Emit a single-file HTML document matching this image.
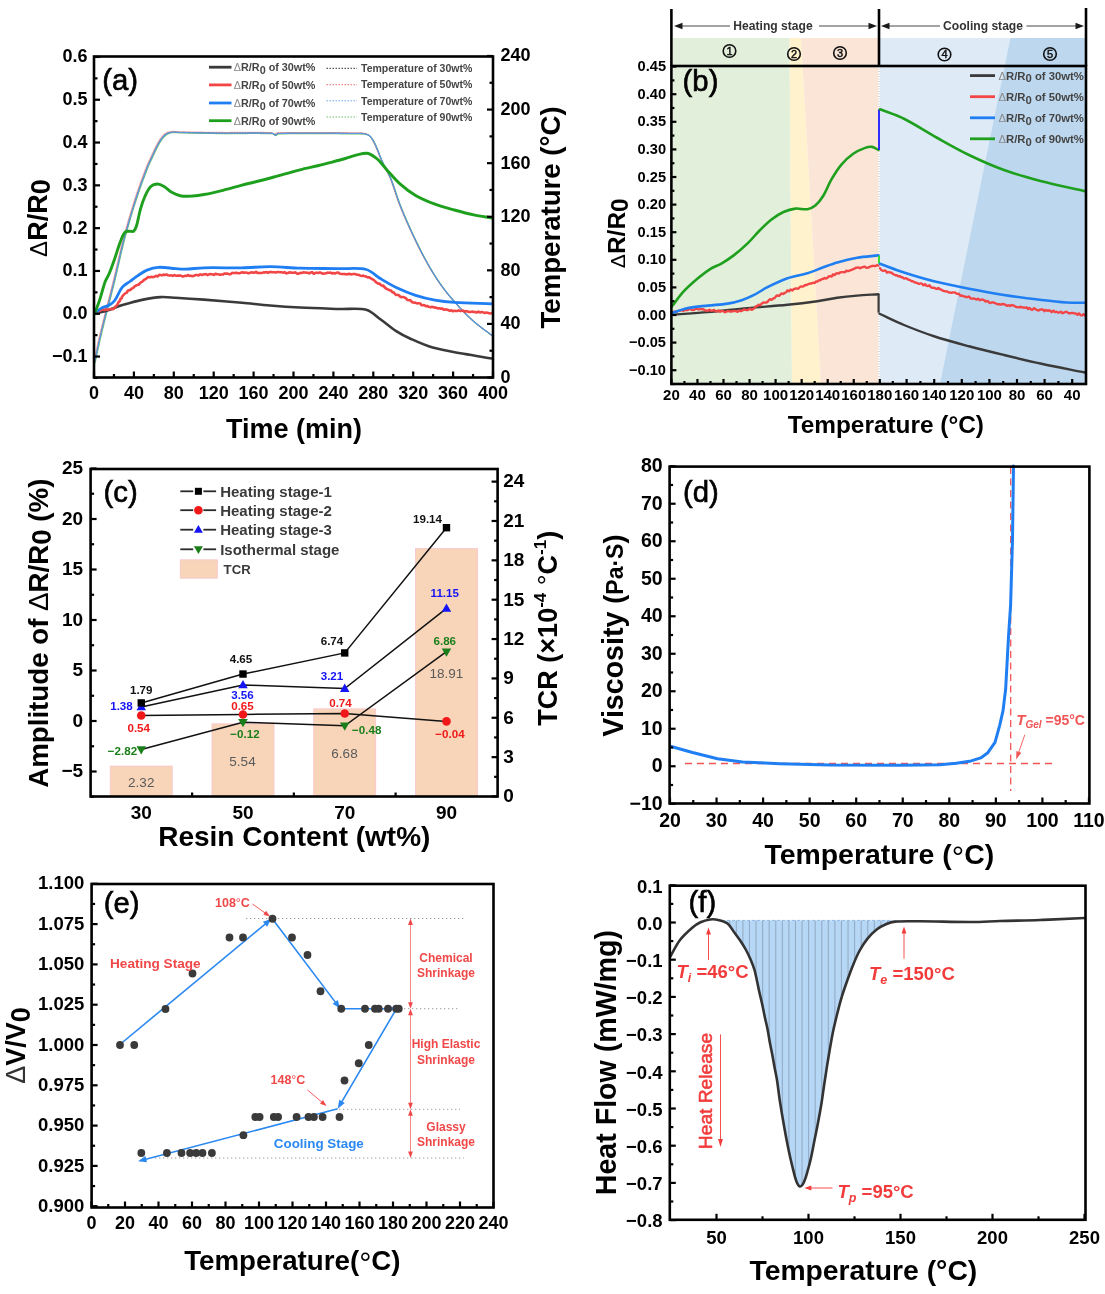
<!DOCTYPE html>
<html><head><meta charset="utf-8"><title>Figure</title>
<style>
html,body{margin:0;padding:0;background:#fff;}
body{width:1105px;height:1294px;overflow:hidden;}
svg{display:block;font-family:"Liberation Sans", sans-serif;filter:blur(0.35px);}
</style></head>
<body>
<svg width="1105" height="1294" viewBox="0 0 1105 1294">
<rect width="1105" height="1294" fill="#fff"/>
<path d="M93.8,361.4 C96.1,351.07 98.22,340.69 100.7,330.4 C104.64,314.02 109.04,297.76 113.05,281.4 C116.64,266.76 119.64,251.97 123.5,237.4 C127.06,223.97 131.02,210.62 135.3,197.4 C138.62,187.12 142.41,176.98 146.3,166.9 C147.75,163.14 149.61,159.55 151.3,155.9 C152.77,152.72 154.2,149.51 155.8,146.4 C157.03,144.01 158.29,141.61 159.8,139.4 C160.96,137.71 162.29,136.06 163.8,134.7 C164.96,133.66 166.36,132.76 167.8,132.2 C169.19,131.66 170.79,131.47 172.3,131.4 C174.62,131.3 176.97,131.65 179.3,131.7 C192.63,131.98 205.97,132.27 219.3,132.4 C236.77,132.57 254.41,131.97 271.7,132.6 C272.74,132.64 273.41,134.38 274.3,134.4 C275.27,134.42 276.16,132.72 277.3,132.7 C305.16,132.19 333.32,132.52 361.3,132.8 C362.82,132.82 364.37,133.14 365.8,133.6 C366.87,133.94 367.97,134.46 368.8,135.2 C369.97,136.23 370.98,137.55 371.8,138.9 C373.15,141.12 374.26,143.51 375.3,145.9 C377.62,151.21 379.5,156.73 381.9,162 C384.3,167.26 387.52,172.16 389.7,177.5 C393.32,186.36 395.8,195.69 399.3,204.6 C402.9,213.75 406.85,222.78 411,231.7 C415.25,240.85 419.61,249.98 424.5,258.8 C429.28,267.42 434.31,275.98 440,284 C445.31,291.48 451.37,298.47 457.5,305.3 C462.37,310.73 467.51,316 473,320.8 C478.78,325.86 485.2,330.2 491.3,334.9" stroke="#f0a0a0" stroke-width="1.1" fill="none" stroke-linejoin="round" stroke-linecap="round" stroke-dasharray="1.6,1.0" stroke-dashoffset="0"/>
<path d="M95.2,362.6 C97.5,352.27 99.62,341.89 102.1,331.6 C106.04,315.22 110.44,298.96 114.45,282.6 C118.04,267.96 121.04,253.17 124.9,238.6 C128.46,225.17 132.42,211.82 136.7,198.6 C140.02,188.32 143.81,178.18 147.7,168.1 C149.15,164.34 151.01,160.75 152.7,157.1 C154.17,153.92 155.6,150.71 157.2,147.6 C158.43,145.21 159.69,142.81 161.2,140.6 C162.36,138.91 163.69,137.26 165.2,135.9 C166.36,134.86 167.76,133.96 169.2,133.4 C170.59,132.86 172.19,132.67 173.7,132.6 C176.02,132.5 178.37,132.85 180.7,132.9 C194.03,133.18 207.37,133.47 220.7,133.6 C238.17,133.77 255.81,133.17 273.1,133.8 C274.14,133.84 274.81,135.58 275.7,135.6 C276.67,135.62 277.56,133.92 278.7,133.9 C306.56,133.39 334.72,133.72 362.7,134 C364.22,134.02 365.77,134.34 367.2,134.8 C368.27,135.14 369.37,135.66 370.2,136.4 C371.37,137.43 372.38,138.75 373.2,140.1 C374.55,142.32 375.66,144.71 376.7,147.1 C379.02,152.41 380.9,157.93 383.3,163.2 C385.7,168.46 388.92,173.36 391.1,178.7 C394.72,187.56 397.2,196.89 400.7,205.8 C404.3,214.95 408.25,223.98 412.4,232.9 C416.65,242.05 421.01,251.18 425.9,260 C430.68,268.62 435.71,277.18 441.4,285.2 C446.71,292.68 452.77,299.67 458.9,306.5 C463.77,311.93 468.91,317.2 474.4,322 C480.18,327.06 486.6,331.4 492.7,336.1" stroke="#6cc06c" stroke-width="1.2" fill="none" stroke-linejoin="round" stroke-linecap="round" stroke-dasharray="1.6,1.0" stroke-dashoffset="1"/>
<path d="M94.5,362 C96.8,351.67 98.92,341.29 101.4,331 C105.34,314.62 109.74,298.36 113.75,282 C117.34,267.36 120.34,252.57 124.2,238 C127.76,224.57 131.72,211.22 136,198 C139.32,187.72 143.11,177.58 147,167.5 C148.45,163.74 150.31,160.15 152,156.5 C153.47,153.32 154.9,150.11 156.5,147 C157.73,144.61 158.99,142.21 160.5,140 C161.66,138.31 162.99,136.66 164.5,135.3 C165.66,134.26 167.06,133.36 168.5,132.8 C169.89,132.26 171.49,132.07 173,132 C175.32,131.9 177.67,132.25 180,132.3 C193.33,132.58 206.67,132.87 220,133 C237.47,133.17 255.11,132.57 272.4,133.2 C273.44,133.24 274.11,134.98 275,135 C275.97,135.02 276.86,133.32 278,133.3 C305.86,132.79 334.02,133.12 362,133.4 C363.52,133.42 365.07,133.74 366.5,134.2 C367.57,134.54 368.67,135.06 369.5,135.8 C370.67,136.83 371.68,138.15 372.5,139.5 C373.85,141.72 374.96,144.11 376,146.5 C378.32,151.81 380.2,157.33 382.6,162.6 C385,167.86 388.22,172.76 390.4,178.1 C394.02,186.96 396.5,196.29 400,205.2 C403.6,214.35 407.55,223.38 411.7,232.3 C415.95,241.45 420.31,250.58 425.2,259.4 C429.98,268.02 435.01,276.58 440.7,284.6 C446.01,292.08 452.07,299.07 458.2,305.9 C463.07,311.33 468.21,316.6 473.7,321.4 C479.48,326.46 485.9,330.8 492,335.5" stroke="#6a7890" stroke-width="1.1" fill="none" stroke-linejoin="round" stroke-linecap="round" stroke-dasharray="1.6,1.0" stroke-dashoffset="0.5"/>
<path d="M94.7,362.2 C97,351.87 99.12,341.49 101.6,331.2 C105.54,314.82 109.94,298.56 113.95,282.2 C117.54,267.56 120.54,252.77 124.4,238.2 C127.96,224.77 131.92,211.42 136.2,198.2 C139.52,187.92 143.31,177.78 147.2,167.7 C148.65,163.94 150.51,160.35 152.2,156.7 C153.67,153.52 155.1,150.31 156.7,147.2 C157.93,144.81 159.19,142.41 160.7,140.2 C161.86,138.51 163.19,136.86 164.7,135.5 C165.86,134.46 167.26,133.56 168.7,133 C170.09,132.46 171.69,132.27 173.2,132.2 C175.52,132.1 177.87,132.45 180.2,132.5 C193.53,132.78 206.87,133.07 220.2,133.2 C237.67,133.37 255.31,132.77 272.6,133.4 C273.64,133.44 274.31,135.18 275.2,135.2 C276.17,135.22 277.06,133.52 278.2,133.5 C306.06,132.99 334.22,133.32 362.2,133.6 C363.72,133.62 365.27,133.94 366.7,134.4 C367.77,134.74 368.87,135.26 369.7,136 C370.87,137.03 371.88,138.35 372.7,139.7 C374.05,141.92 375.16,144.31 376.2,146.7 C378.52,152.01 380.4,157.53 382.8,162.8 C385.2,168.06 388.42,172.96 390.6,178.3 C394.22,187.16 396.7,196.49 400.2,205.4 C403.8,214.55 407.75,223.58 411.9,232.5 C416.15,241.65 420.51,250.78 425.4,259.6 C430.18,268.22 435.21,276.78 440.9,284.8 C446.21,292.28 452.27,299.27 458.4,306.1 C463.27,311.53 468.41,316.8 473.9,321.6 C479.68,326.66 486.1,331 492.2,335.7" stroke="#5a9ae8" stroke-width="1.1" fill="none" stroke-linejoin="round" stroke-linecap="round" stroke-dasharray="1.6,1.0" stroke-dashoffset="1.6"/>
<path d="M94.5,313.8 C99.33,312.53 104.25,311.51 109,310 C112.25,308.97 115.28,307.32 118.5,306.2 C121.62,305.12 124.81,304.25 128,303.4 C133.04,302.05 138.08,300.6 143.2,299.6 C148.85,298.5 154.57,297.44 160.3,297.1 C165.34,296.8 170.44,297.41 175.5,297.7 C185,298.24 194.51,298.87 204,299.6 C216.67,300.57 229.34,301.67 242,302.8 C251.34,303.63 260.66,304.74 270,305.5 C279.99,306.31 289.99,307 300,307.5 C313.32,308.17 326.67,308.54 340,309 C348.73,309.3 358.05,307.7 366.2,309.8 C371.62,311.2 375.96,316.13 380.7,319.5 C385.96,323.23 390.8,327.6 396.2,331.1 C400.57,333.93 405.25,336.35 410,338.5 C417.42,341.85 424.89,345.37 432.7,347.6 C442.76,350.47 453.27,351.9 463.6,353.8 C473.04,355.53 482.53,356.93 492,358.5" stroke="#3a3a3a" stroke-width="2.6" fill="none" stroke-linejoin="round" stroke-linecap="round" />
<path d="M94.5,313.55 C94.96,313.22 95.37,312.75 95.88,312.55 C96.29,312.39 96.89,312.71 97.26,312.49 C97.81,312.16 98.09,311.26 98.64,310.92 C99.01,310.7 99.61,310.98 100.02,310.81 C100.53,310.61 100.9,310.06 101.4,309.81 C101.87,309.58 102.42,309.35 102.92,309.38 C103.44,309.41 103.94,310.02 104.44,310.01 C104.95,310.01 105.45,309.37 105.96,309.35 C106.46,309.34 106.97,309.9 107.48,309.91 C107.98,309.91 108.49,309.56 109,309.4 C109.47,309.24 109.94,309.03 110.42,308.95 C110.89,308.88 111.38,308.93 111.85,308.94 C112.33,308.96 112.88,309.22 113.28,309.03 C113.83,308.76 114.25,308.08 114.7,307.57 C115.01,307.22 115.23,306.79 115.54,306.45 C115.79,306.18 116.12,305.99 116.39,305.75 C116.68,305.48 117.02,305.25 117.23,304.93 C117.59,304.38 117.78,303.73 118.08,303.14 C118.34,302.63 118.56,302.05 118.92,301.62 C119.12,301.39 119.62,301.43 119.77,301.17 C120.18,300.42 120.18,299.28 120.61,298.6 C120.75,298.38 121.3,298.67 121.46,298.47 C121.86,297.94 121.93,297.04 122.3,296.41 C122.59,295.9 123.05,295.5 123.44,295.06 C123.81,294.66 124.17,294.25 124.58,293.88 C124.93,293.57 125.31,293.25 125.72,293.01 C126.07,292.81 126.6,292.86 126.86,292.58 C127.36,292.04 127.48,291.03 128,290.55 C128.31,290.27 128.93,290.46 129.36,290.3 C129.83,290.13 130.3,289.86 130.71,289.57 C131.2,289.22 131.57,288.7 132.07,288.38 C132.48,288.12 133.05,288.1 133.43,287.81 C133.95,287.41 134.28,286.75 134.79,286.32 C135.18,285.98 135.68,285.74 136.14,285.5 C136.58,285.27 137.03,285.05 137.5,284.89 C137.88,284.75 138.36,284.82 138.69,284.6 C139.16,284.29 139.46,283.72 139.88,283.3 C140.25,282.91 140.63,282.5 141.06,282.19 C141.42,281.94 141.9,281.87 142.25,281.62 C142.69,281.3 143.04,280.87 143.44,280.48 C143.84,280.1 144.17,279.59 144.62,279.32 C144.96,279.12 145.47,279.25 145.81,279.06 C146.26,278.81 146.57,278.3 147,277.98 C147.47,277.63 147.98,277.19 148.52,277.06 C148.99,276.95 149.54,277.27 150.04,277.24 C150.55,277.22 151.05,276.92 151.56,276.9 C152.06,276.87 152.58,277.15 153.08,277.11 C153.6,277.06 154.12,276.84 154.6,276.62 C155.13,276.38 155.6,275.76 156.12,275.72 C156.61,275.69 157.19,276.53 157.64,276.41 C158.21,276.26 158.57,275.19 159.16,274.93 C159.58,274.74 160.17,275.01 160.68,275.07 C161.19,275.12 161.72,275.35 162.2,275.26 C162.73,275.16 163.2,274.52 163.72,274.47 C164.21,274.43 164.74,275.01 165.24,275 C165.75,275 166.28,274.38 166.76,274.43 C167.29,274.5 167.73,275.17 168.28,275.38 C168.75,275.55 169.29,275.57 169.8,275.57 C170.31,275.57 170.82,275.32 171.32,275.36 C171.84,275.41 172.35,275.89 172.84,275.85 C173.36,275.8 173.85,275.14 174.36,275.12 C174.86,275.1 175.36,275.62 175.88,275.71 C176.37,275.8 176.89,275.64 177.4,275.63 C177.91,275.63 178.41,275.68 178.92,275.67 C179.43,275.66 179.95,275.48 180.44,275.56 C180.96,275.64 181.44,276.02 181.96,276.16 C182.45,276.29 182.99,276.43 183.48,276.36 C184,276.3 184.48,275.83 185,275.76 C185.49,275.7 186.05,276.07 186.52,275.96 C187.06,275.83 187.53,275.06 188.04,275.04 C188.54,275.03 189.02,275.75 189.56,275.87 C190.04,275.97 190.58,275.67 191.08,275.72 C191.59,275.76 192.09,276.11 192.6,276.13 C193.1,276.15 193.64,276 194.12,275.82 C194.65,275.62 195.1,275.13 195.64,274.99 C196.11,274.88 196.66,275 197.16,275.06 C197.67,275.13 198.21,275.49 198.68,275.39 C199.22,275.27 199.66,274.49 200.2,274.41 C200.68,274.34 201.21,274.94 201.72,274.95 C202.22,274.96 202.72,274.58 203.24,274.47 C203.74,274.37 204.25,274.38 204.76,274.33 C205.27,274.28 205.81,274.06 206.28,274.17 C206.82,274.31 207.3,275.1 207.8,275.1 C208.31,275.09 208.77,274.29 209.32,274.13 C209.78,274 210.33,274.19 210.84,274.22 C211.35,274.26 211.87,274.23 212.36,274.35 C212.88,274.48 213.41,275.04 213.88,274.95 C214.43,274.85 214.84,273.91 215.4,273.77 C215.86,273.66 216.4,274.13 216.92,274.22 C217.42,274.3 217.94,274.21 218.44,274.29 C218.95,274.36 219.45,274.64 219.96,274.68 C220.46,274.72 220.97,274.55 221.48,274.52 C221.99,274.49 222.53,274.65 223,274.51 C223.54,274.35 223.96,273.75 224.5,273.61 C224.96,273.48 225.5,273.72 226,273.71 C226.5,273.7 227.02,273.47 227.5,273.55 C228.02,273.63 228.48,274.08 229,274.2 C229.48,274.31 230.06,274.39 230.5,274.22 C231.06,274 231.44,273.24 232,273.01 C232.44,272.82 233,272.97 233.5,272.96 C234,272.95 234.5,272.97 235,272.95 C235.5,272.94 236,272.84 236.5,272.87 C237,272.9 237.5,273.08 238,273.14 C238.5,273.19 239.02,273.28 239.5,273.2 C240.02,273.12 240.5,272.82 241,272.66 C241.5,272.49 242,272.2 242.5,272.21 C243,272.22 243.49,272.65 244,272.71 C244.49,272.76 245,272.55 245.5,272.55 C246,272.56 246.51,272.64 247,272.75 C247.51,272.86 248,273.2 248.5,273.2 C249,273.2 249.5,272.88 250,272.75 C250.5,272.62 251,272.45 251.5,272.42 C252,272.39 252.51,272.54 253.02,272.58 C253.52,272.63 254.06,272.8 254.53,272.68 C255.07,272.55 255.57,271.78 256.05,271.83 C256.58,271.89 257,272.84 257.56,273.03 C258.01,273.19 258.57,272.89 259.08,272.89 C259.58,272.89 260.09,273.03 260.59,273.04 C261.1,273.05 261.62,273.05 262.11,272.95 C262.63,272.84 263.1,272.49 263.62,272.4 C264.11,272.32 264.64,272.49 265.14,272.43 C265.65,272.37 266.17,271.97 266.66,272.03 C267.18,272.1 267.67,272.8 268.17,272.79 C268.68,272.79 269.15,272.15 269.69,272.01 C270.16,271.89 270.7,272 271.2,272.04 C271.71,272.08 272.21,272.23 272.72,272.25 C273.22,272.28 273.73,272.17 274.23,272.21 C274.74,272.25 275.25,272.5 275.75,272.48 C276.26,272.46 276.75,272.17 277.27,272.09 C277.76,272.02 278.28,272.01 278.78,272.04 C279.29,272.07 279.79,272.24 280.3,272.27 C280.8,272.3 281.32,272.16 281.81,272.22 C282.33,272.27 282.83,272.61 283.33,272.6 C283.84,272.59 284.39,272.04 284.84,272.15 C285.4,272.29 285.8,273.2 286.36,273.36 C286.81,273.48 287.38,273.17 287.88,273.01 C288.39,272.84 288.87,272.46 289.39,272.38 C289.88,272.3 290.4,272.49 290.91,272.54 C291.41,272.59 291.92,272.66 292.42,272.69 C292.93,272.72 293.44,272.78 293.94,272.73 C294.45,272.69 294.99,272.31 295.45,272.42 C296,272.55 296.42,273.22 296.97,273.45 C297.43,273.64 298,273.75 298.48,273.67 C299.01,273.58 299.47,273.07 300,272.95 C300.48,272.84 301.03,273.06 301.52,272.98 C302.05,272.89 302.52,272.51 303.05,272.42 C303.54,272.33 304.07,272.38 304.57,272.44 C305.09,272.5 305.58,272.74 306.1,272.78 C306.6,272.82 307.14,272.56 307.62,272.67 C308.16,272.79 308.65,273.48 309.14,273.46 C309.66,273.44 310.12,272.73 310.67,272.53 C311.14,272.35 311.75,272.17 312.19,272.33 C312.77,272.54 313.16,273.5 313.72,273.63 C314.17,273.74 314.73,273.23 315.24,273.04 C315.74,272.85 316.26,272.5 316.76,272.51 C317.27,272.51 317.79,273.09 318.29,273.06 C318.81,273.03 319.3,272.34 319.81,272.34 C320.32,272.33 320.82,272.82 321.34,273.04 C321.84,273.26 322.33,273.59 322.86,273.67 C323.35,273.75 323.88,273.57 324.38,273.51 C324.89,273.44 325.42,273.41 325.91,273.27 C326.43,273.13 326.91,272.75 327.43,272.67 C327.92,272.59 328.45,272.84 328.96,272.81 C329.47,272.79 330,272.44 330.48,272.53 C331.02,272.63 331.47,273.29 332,273.38 C332.48,273.46 333.02,273.04 333.53,273.05 C334.04,273.05 334.56,273.44 335.05,273.39 C335.57,273.34 336.05,272.9 336.58,272.76 C337.07,272.64 337.63,272.49 338.1,272.61 C338.66,272.76 339.11,273.35 339.66,273.6 C340.15,273.81 340.69,273.94 341.22,274 C341.73,274.06 342.26,273.97 342.78,273.98 C343.3,273.99 343.83,274.03 344.34,274.07 C344.87,274.12 345.38,274.21 345.91,274.25 C346.42,274.29 346.96,274.38 347.47,274.3 C348,274.22 348.51,273.74 349.03,273.75 C349.55,273.75 350.05,274.23 350.59,274.31 C351.09,274.39 351.63,274.31 352.15,274.25 C352.67,274.19 353.19,273.97 353.71,273.95 C354.23,273.93 354.76,274 355.27,274.11 C355.8,274.23 356.3,274.51 356.83,274.62 C357.34,274.73 357.9,274.62 358.39,274.76 C358.94,274.92 359.42,275.3 359.96,275.53 C360.46,275.74 361,276.06 361.52,276.06 C362.04,276.05 362.58,275.46 363.08,275.5 C363.62,275.55 364.09,276.16 364.64,276.35 C365.13,276.52 365.71,276.42 366.2,276.58 C366.67,276.74 367.05,277.2 367.52,277.33 C367.93,277.44 368.42,277.2 368.84,277.29 C369.3,277.39 369.73,277.66 370.15,277.88 C370.61,278.12 371.03,278.42 371.47,278.68 C371.91,278.94 372.36,279.17 372.79,279.43 C373.23,279.69 373.72,279.91 374.11,280.23 C374.59,280.63 374.97,281.17 375.43,281.61 C375.85,282.02 376.27,282.45 376.75,282.79 C377.15,283.08 377.6,283.32 378.06,283.49 C378.48,283.65 378.99,283.58 379.38,283.78 C379.87,284.02 380.26,284.47 380.7,284.81 C381.13,285.15 381.51,285.68 381.99,285.83 C382.37,285.95 382.95,285.45 383.28,285.64 C383.81,285.93 384.11,286.75 384.57,287.25 C384.97,287.67 385.4,288.08 385.87,288.41 C386.26,288.68 386.74,288.81 387.16,289.04 C387.6,289.27 388,289.59 388.45,289.8 C388.86,289.99 389.31,290.09 389.74,290.23 C390.17,290.36 390.7,290.35 391.03,290.62 C391.56,291.03 391.79,291.9 392.32,292.28 C392.65,292.51 393.27,292.23 393.62,292.45 C394.13,292.78 394.44,293.46 394.91,293.91 C395.3,294.3 395.72,294.8 396.2,294.96 C396.61,295.09 397.14,294.7 397.59,294.78 C398.07,294.85 398.57,295.11 398.97,295.4 C399.49,295.78 399.82,296.46 400.36,296.79 C400.75,297.03 401.28,297.07 401.74,297.1 C402.2,297.13 402.68,296.88 403.13,296.95 C403.61,297.02 404.06,297.31 404.51,297.51 C404.98,297.71 405.52,297.84 405.9,298.16 C406.44,298.62 406.73,299.41 407.29,299.84 C407.66,300.13 408.2,300.29 408.67,300.32 C409.13,300.35 409.68,299.85 410.06,300.02 C410.61,300.27 410.92,301.14 411.44,301.59 C411.85,301.94 412.33,302.25 412.83,302.43 C413.26,302.58 413.75,302.54 414.21,302.6 C414.68,302.66 415.16,302.66 415.6,302.79 C416.11,302.94 416.57,303.37 417.08,303.45 C417.56,303.52 418.07,303.24 418.57,303.24 C419.06,303.24 419.66,303.19 420.05,303.45 C420.65,303.84 420.94,304.84 421.54,305.17 C421.93,305.38 422.53,305.07 423.02,305.09 C423.52,305.12 424.05,305.12 424.51,305.3 C425.04,305.51 425.46,306.13 425.99,306.25 C426.45,306.34 427.02,305.82 427.48,305.92 C428.01,306.04 428.43,306.68 428.96,306.91 C429.42,307.11 429.96,307.25 430.45,307.23 C430.95,307.2 431.43,306.75 431.93,306.74 C432.42,306.73 432.92,307.03 433.42,307.18 C433.91,307.32 434.4,307.51 434.9,307.61 C435.39,307.71 435.92,307.62 436.39,307.76 C436.91,307.91 437.37,308.38 437.88,308.47 C438.36,308.54 438.89,308.2 439.38,308.23 C439.88,308.27 440.36,308.63 440.87,308.68 C441.36,308.72 441.93,308.34 442.36,308.5 C442.93,308.71 443.3,309.67 443.85,309.81 C444.3,309.92 444.84,309.29 445.35,309.26 C445.83,309.23 446.34,309.5 446.84,309.63 C447.34,309.75 447.85,309.85 448.33,310.02 C448.84,310.21 449.31,310.66 449.82,310.7 C450.31,310.73 450.85,310.17 451.32,310.24 C451.84,310.32 452.28,311.06 452.81,311.16 C453.27,311.25 453.8,310.84 454.3,310.8 C454.8,310.76 455.3,310.9 455.81,310.93 C456.31,310.97 456.83,311.1 457.32,311.01 C457.84,310.92 458.32,310.38 458.82,310.39 C459.33,310.4 459.81,311 460.33,311.07 C460.82,311.13 461.33,310.87 461.84,310.8 C462.34,310.72 462.91,310.48 463.35,310.63 C463.91,310.83 464.32,311.76 464.86,311.83 C465.33,311.9 465.84,311.09 466.36,311.05 C466.85,311 467.37,311.4 467.87,311.55 C468.37,311.71 468.87,311.95 469.38,312 C469.87,312.04 470.39,311.91 470.89,311.85 C471.39,311.78 471.9,311.59 472.4,311.61 C472.9,311.63 473.4,311.89 473.9,311.97 C474.4,312.05 474.92,312.02 475.41,312.11 C475.92,312.2 476.44,312.59 476.92,312.52 C477.45,312.44 477.92,311.68 478.43,311.66 C478.92,311.63 479.41,312.32 479.94,312.38 C480.42,312.44 480.94,312.07 481.44,312.03 C481.94,312 482.48,312.02 482.95,312.16 C483.48,312.32 483.93,312.85 484.46,312.94 C484.94,313.02 485.46,312.68 485.97,312.66 C486.47,312.64 486.98,312.74 487.48,312.82 C487.98,312.91 488.48,313.08 488.98,313.19 C489.48,313.3 490,313.53 490.49,313.49 C491.01,313.44 491.5,313.11 492,312.92" stroke="#f24646" stroke-width="2.6" fill="none" stroke-linejoin="round" stroke-linecap="round" />
<path d="M94.5,313.8 C96.8,311.9 98.86,309.59 101.4,308.1 C103.7,306.75 106.69,306.62 109,305.3 C111.12,304.09 113.25,302.47 114.7,300.5 C117.68,296.44 119.17,291.11 122.3,287.2 C124.24,284.78 127.37,283.4 129.9,281.5 C132.43,279.6 134.87,277.55 137.5,275.8 C140.57,273.75 143.62,271.48 147,270.1 C150.58,268.64 154.54,267.5 158.4,267.3 C164.04,267 169.8,268.19 175.5,268.6 C178.66,268.83 181.83,269.29 185,269.2 C191.33,269.02 197.66,267.96 204,267.8 C216.66,267.49 229.34,268.01 242,267.8 C251.5,267.64 261,266.63 270.5,266.7 C280.34,266.77 290.16,267.92 300,268.2 C313.33,268.58 326.67,268.44 340,268.7 C348.74,268.87 358.01,267.47 366.2,269.5 C371.58,270.84 375.78,275.85 380.7,278.8 C385.78,281.85 390.85,284.97 396.2,287.5 C402.49,290.47 408.99,293.15 415.6,295.3 C421.89,297.35 428.39,298.91 434.9,300.1 C441.29,301.27 447.81,301.98 454.3,302.4 C466.84,303.21 479.43,303.33 492,303.8" stroke="#1f7ff2" stroke-width="2.8" fill="none" stroke-linejoin="round" stroke-linecap="round" />
<path d="M94.5,313.8 C96.17,309.37 98.01,304.99 99.5,300.5 C101.58,294.23 102.98,287.7 105.2,281.5 C106.14,278.87 107.92,276.58 109,274 C111.09,268.98 112.89,263.83 114.7,258.7 C116.69,253.03 118.2,247.17 120.4,241.6 C121.7,238.31 123.02,234.49 125.2,232.1 C126.18,231.02 128.32,231.37 129.9,231.2 C131.15,231.07 132.87,231.91 133.7,231.2 C135.1,230.01 135.98,227.53 136.6,225.5 C138.21,220.23 138.87,214.62 140.4,209.3 C141.7,204.79 143.16,200.26 145.1,196 C146.62,192.66 148.29,188.93 150.8,186.5 C152.42,184.93 155.27,184 157.5,184 C159.7,184 162.08,185.33 164.1,186.5 C166.82,188.07 168.96,190.68 171.7,192.2 C174.66,193.84 177.9,195.4 181.2,196 C184.87,196.67 188.82,196.25 192.6,196 C196.42,195.75 200.24,195.21 204,194.5 C210.37,193.31 216.7,191.84 223,190.3 C229.37,188.74 235.65,186.84 242,185.2 C251.49,182.74 261.03,180.51 270.5,178 C280.36,175.38 290.12,172.36 300,169.8 C306.19,168.19 312.49,167.02 318.7,165.5 C325.82,163.76 332.9,161.82 340,160 C348.73,157.76 357.68,153.6 366.2,153.3 C369.95,153.17 373.74,156.28 376.8,158.7 C380.51,161.64 383.24,165.86 386.5,169.4 C390.97,174.26 395.1,179.51 400,183.9 C404.8,188.21 410.03,192.26 415.6,195.5 C421.66,199.03 428.31,201.73 434.9,204.2 C441.21,206.56 447.79,208.21 454.3,210 C460.73,211.77 467.18,213.52 473.7,214.9 C479.75,216.18 485.9,216.97 492,218" stroke="#1ea01e" stroke-width="2.9" fill="none" stroke-linejoin="round" stroke-linecap="round" />
<line x1="209" y1="67.2" x2="231.5" y2="67.2" stroke="#3a3a3a" stroke-width="2.8" />
<text x="233.8" y="71.1" font-size="10.8" font-weight="bold" fill="#444"><tspan font-weight="normal" fill="#8a8a8a">Δ</tspan>R/R<tspan dy="2.8">0</tspan><tspan dy="-2.8"> of 30wt%</tspan></text>
<line x1="326.5" y1="68.4" x2="357" y2="68.4" stroke="#555" stroke-width="1.1" stroke-dasharray="1.5,1.5"/>
<text x="361" y="72.2" font-size="10.5" font-weight="bold" fill="#444">Temperature of 30wt%</text>
<line x1="209" y1="84.9" x2="231.5" y2="84.9" stroke="#f24646" stroke-width="2.8" />
<text x="233.8" y="88.8" font-size="10.8" font-weight="bold" fill="#444"><tspan font-weight="normal" fill="#8a8a8a">Δ</tspan>R/R<tspan dy="2.8">0</tspan><tspan dy="-2.8"> of 50wt%</tspan></text>
<line x1="326.5" y1="84.6" x2="357" y2="84.6" stroke="#f08a8a" stroke-width="1.1" stroke-dasharray="1.5,1.5"/>
<text x="361" y="88.4" font-size="10.5" font-weight="bold" fill="#444">Temperature of 50wt%</text>
<line x1="209" y1="103" x2="231.5" y2="103" stroke="#1f7ff2" stroke-width="2.8" />
<text x="233.8" y="106.9" font-size="10.8" font-weight="bold" fill="#444"><tspan font-weight="normal" fill="#8a8a8a">Δ</tspan>R/R<tspan dy="2.8">0</tspan><tspan dy="-2.8"> of 70wt%</tspan></text>
<line x1="326.5" y1="100.8" x2="357" y2="100.8" stroke="#6aa8f0" stroke-width="1.1" stroke-dasharray="1.5,1.5"/>
<text x="361" y="104.6" font-size="10.5" font-weight="bold" fill="#444">Temperature of 70wt%</text>
<line x1="209" y1="120.7" x2="231.5" y2="120.7" stroke="#1ea01e" stroke-width="2.8" />
<text x="233.8" y="124.6" font-size="10.8" font-weight="bold" fill="#444"><tspan font-weight="normal" fill="#8a8a8a">Δ</tspan>R/R<tspan dy="2.8">0</tspan><tspan dy="-2.8"> of 90wt%</tspan></text>
<line x1="326.5" y1="117" x2="357" y2="117" stroke="#70c070" stroke-width="1.1" stroke-dasharray="1.5,1.5"/>
<text x="361" y="120.8" font-size="10.5" font-weight="bold" fill="#444">Temperature of 90wt%</text>
<rect x="94" y="56.5" width="399" height="321" fill="none" stroke="#000" stroke-width="2.6"/>
<line x1="94" y1="356.55" x2="100" y2="356.55" stroke="#000" stroke-width="2.2" />
<line x1="94" y1="313.75" x2="100" y2="313.75" stroke="#000" stroke-width="2.2" />
<line x1="94" y1="270.95" x2="100" y2="270.95" stroke="#000" stroke-width="2.2" />
<line x1="94" y1="228.15" x2="100" y2="228.15" stroke="#000" stroke-width="2.2" />
<line x1="94" y1="185.35" x2="100" y2="185.35" stroke="#000" stroke-width="2.2" />
<line x1="94" y1="142.55" x2="100" y2="142.55" stroke="#000" stroke-width="2.2" />
<line x1="94" y1="99.75" x2="100" y2="99.75" stroke="#000" stroke-width="2.2" />
<line x1="94" y1="56.95" x2="100" y2="56.95" stroke="#000" stroke-width="2.2" />
<line x1="94" y1="377.95" x2="97.5" y2="377.95" stroke="#000" stroke-width="2.2" />
<line x1="94" y1="335.15" x2="97.5" y2="335.15" stroke="#000" stroke-width="2.2" />
<line x1="94" y1="292.35" x2="97.5" y2="292.35" stroke="#000" stroke-width="2.2" />
<line x1="94" y1="249.55" x2="97.5" y2="249.55" stroke="#000" stroke-width="2.2" />
<line x1="94" y1="206.75" x2="97.5" y2="206.75" stroke="#000" stroke-width="2.2" />
<line x1="94" y1="163.95" x2="97.5" y2="163.95" stroke="#000" stroke-width="2.2" />
<line x1="94" y1="121.15" x2="97.5" y2="121.15" stroke="#000" stroke-width="2.2" />
<line x1="94" y1="78.35" x2="97.5" y2="78.35" stroke="#000" stroke-width="2.2" />
<line x1="493" y1="377.5" x2="487" y2="377.5" stroke="#000" stroke-width="2.2" />
<line x1="493" y1="323.92" x2="487" y2="323.92" stroke="#000" stroke-width="2.2" />
<line x1="493" y1="270.33" x2="487" y2="270.33" stroke="#000" stroke-width="2.2" />
<line x1="493" y1="216.75" x2="487" y2="216.75" stroke="#000" stroke-width="2.2" />
<line x1="493" y1="163.17" x2="487" y2="163.17" stroke="#000" stroke-width="2.2" />
<line x1="493" y1="109.58" x2="487" y2="109.58" stroke="#000" stroke-width="2.2" />
<line x1="493" y1="56" x2="487" y2="56" stroke="#000" stroke-width="2.2" />
<line x1="493" y1="350.71" x2="489.5" y2="350.71" stroke="#000" stroke-width="2.2" />
<line x1="493" y1="297.12" x2="489.5" y2="297.12" stroke="#000" stroke-width="2.2" />
<line x1="493" y1="243.54" x2="489.5" y2="243.54" stroke="#000" stroke-width="2.2" />
<line x1="493" y1="189.96" x2="489.5" y2="189.96" stroke="#000" stroke-width="2.2" />
<line x1="493" y1="136.38" x2="489.5" y2="136.38" stroke="#000" stroke-width="2.2" />
<line x1="493" y1="82.79" x2="489.5" y2="82.79" stroke="#000" stroke-width="2.2" />
<line x1="94" y1="377.5" x2="94" y2="371.5" stroke="#000" stroke-width="2.2" />
<line x1="133.9" y1="377.5" x2="133.9" y2="371.5" stroke="#000" stroke-width="2.2" />
<line x1="173.8" y1="377.5" x2="173.8" y2="371.5" stroke="#000" stroke-width="2.2" />
<line x1="213.7" y1="377.5" x2="213.7" y2="371.5" stroke="#000" stroke-width="2.2" />
<line x1="253.6" y1="377.5" x2="253.6" y2="371.5" stroke="#000" stroke-width="2.2" />
<line x1="293.5" y1="377.5" x2="293.5" y2="371.5" stroke="#000" stroke-width="2.2" />
<line x1="333.4" y1="377.5" x2="333.4" y2="371.5" stroke="#000" stroke-width="2.2" />
<line x1="373.3" y1="377.5" x2="373.3" y2="371.5" stroke="#000" stroke-width="2.2" />
<line x1="413.2" y1="377.5" x2="413.2" y2="371.5" stroke="#000" stroke-width="2.2" />
<line x1="453.1" y1="377.5" x2="453.1" y2="371.5" stroke="#000" stroke-width="2.2" />
<line x1="493" y1="377.5" x2="493" y2="371.5" stroke="#000" stroke-width="2.2" />
<line x1="113.95" y1="377.5" x2="113.95" y2="374" stroke="#000" stroke-width="2.2" />
<line x1="153.85" y1="377.5" x2="153.85" y2="374" stroke="#000" stroke-width="2.2" />
<line x1="193.75" y1="377.5" x2="193.75" y2="374" stroke="#000" stroke-width="2.2" />
<line x1="233.65" y1="377.5" x2="233.65" y2="374" stroke="#000" stroke-width="2.2" />
<line x1="273.55" y1="377.5" x2="273.55" y2="374" stroke="#000" stroke-width="2.2" />
<line x1="313.45" y1="377.5" x2="313.45" y2="374" stroke="#000" stroke-width="2.2" />
<line x1="353.35" y1="377.5" x2="353.35" y2="374" stroke="#000" stroke-width="2.2" />
<line x1="393.25" y1="377.5" x2="393.25" y2="374" stroke="#000" stroke-width="2.2" />
<line x1="433.15" y1="377.5" x2="433.15" y2="374" stroke="#000" stroke-width="2.2" />
<line x1="473.05" y1="377.5" x2="473.05" y2="374" stroke="#000" stroke-width="2.2" />
<text x="87.5" y="361.99" font-size="18" font-weight="bold" text-anchor="end" fill="#000" >−0.1</text>
<text x="87.5" y="319.19" font-size="18" font-weight="bold" text-anchor="end" fill="#000" >0.0</text>
<text x="87.5" y="276.39" font-size="18" font-weight="bold" text-anchor="end" fill="#000" >0.1</text>
<text x="87.5" y="233.59" font-size="18" font-weight="bold" text-anchor="end" fill="#000" >0.2</text>
<text x="87.5" y="190.79" font-size="18" font-weight="bold" text-anchor="end" fill="#000" >0.3</text>
<text x="87.5" y="147.99" font-size="18" font-weight="bold" text-anchor="end" fill="#000" >0.4</text>
<text x="87.5" y="105.19" font-size="18" font-weight="bold" text-anchor="end" fill="#000" >0.5</text>
<text x="87.5" y="62.39" font-size="18" font-weight="bold" text-anchor="end" fill="#000" >0.6</text>
<text x="500.5" y="382.94" font-size="18" font-weight="bold" text-anchor="start" fill="#000" >0</text>
<text x="500.5" y="329.36" font-size="18" font-weight="bold" text-anchor="start" fill="#000" >40</text>
<text x="500.5" y="275.78" font-size="18" font-weight="bold" text-anchor="start" fill="#000" >80</text>
<text x="500.5" y="222.19" font-size="18" font-weight="bold" text-anchor="start" fill="#000" >120</text>
<text x="500.5" y="168.61" font-size="18" font-weight="bold" text-anchor="start" fill="#000" >160</text>
<text x="500.5" y="115.03" font-size="18" font-weight="bold" text-anchor="start" fill="#000" >200</text>
<text x="500.5" y="61.44" font-size="18" font-weight="bold" text-anchor="start" fill="#000" >240</text>
<text x="94" y="398.94" font-size="18" font-weight="bold" text-anchor="middle" fill="#000" >0</text>
<text x="133.9" y="398.94" font-size="18" font-weight="bold" text-anchor="middle" fill="#000" >40</text>
<text x="173.8" y="398.94" font-size="18" font-weight="bold" text-anchor="middle" fill="#000" >80</text>
<text x="213.7" y="398.94" font-size="18" font-weight="bold" text-anchor="middle" fill="#000" >120</text>
<text x="253.6" y="398.94" font-size="18" font-weight="bold" text-anchor="middle" fill="#000" >160</text>
<text x="293.5" y="398.94" font-size="18" font-weight="bold" text-anchor="middle" fill="#000" >200</text>
<text x="333.4" y="398.94" font-size="18" font-weight="bold" text-anchor="middle" fill="#000" >240</text>
<text x="373.3" y="398.94" font-size="18" font-weight="bold" text-anchor="middle" fill="#000" >280</text>
<text x="413.2" y="398.94" font-size="18" font-weight="bold" text-anchor="middle" fill="#000" >320</text>
<text x="453.1" y="398.94" font-size="18" font-weight="bold" text-anchor="middle" fill="#000" >360</text>
<text x="493" y="398.94" font-size="18" font-weight="bold" text-anchor="middle" fill="#000" >400</text>
<text x="294" y="437.97" font-size="27" font-weight="bold" text-anchor="middle" fill="#000" >Time (min)</text>
<text transform="translate(47.4,218.1) rotate(-90)" font-size="27" font-weight="bold" text-anchor="middle" fill="#000" ><tspan font-weight="normal" font-size="24">Δ</tspan>R/R<tspan dy="3">0</tspan></text>
<text transform="translate(559.88,217.4) rotate(-90)" font-size="27.6" font-weight="bold" text-anchor="middle" fill="#000"  >Temperature (°C)</text>
<text x="102.3" y="90.3" font-size="29.3" fill="#000" stroke="#000" stroke-width="0.65">(a)</text>
<polygon points="673,38 789.5,38 792,384 673,384" fill="#e2efda" />
<polygon points="789.5,38 801,38 821,384 792,384" fill="#fff2cc" />
<polygon points="801,38 878,38 878,384 821,384" fill="#fbe5d6" />
<polygon points="880,38 1085,38 1085,384 880,384" fill="#deebf7" />
<polygon points="1010.5,38 1085,38 1085,384 940,384" fill="#bdd7ee" />
<line x1="879" y1="66" x2="879" y2="384" stroke="#9a9a9a" stroke-width="0.8" stroke-dasharray="1,1.5"/>
<path d="M672,314.7 C683.93,313.83 695.88,313.14 707.8,312.1 C721.08,310.94 734.32,309.32 747.6,308.1 C760.89,306.88 774.22,306.11 787.5,304.8 C797.46,303.81 807.4,302.6 817.3,301.2 C823.96,300.26 830.54,298.74 837.2,297.8 C843.81,296.87 850.45,296.18 857.1,295.6 C864.19,294.98 871.3,294.67 878.4,294.2" stroke="#3a3a3a" stroke-width="2.4" fill="none" stroke-linejoin="round" stroke-linecap="round" />
<line x1="878.6" y1="294.2" x2="878.6" y2="312.7" stroke="#3a3a3a" stroke-width="2.2" />
<path d="M879.5,313.75 C887.67,317.5 895.7,321.57 904,325 C913.87,329.07 923.86,332.93 934,336.25 C945.52,340.02 957.28,343.11 969,346.25 C980.61,349.36 992.31,352.18 1004,355 C1016.48,358.01 1028.96,361.04 1041.5,363.75 C1055.96,366.87 1070.5,369.58 1085,372.5" stroke="#3a3a3a" stroke-width="2.4" fill="none" stroke-linejoin="round" stroke-linecap="round" />
<path d="M672,312.29 C672.53,312.13 673.05,311.94 673.59,311.81 C674.11,311.68 674.65,311.57 675.18,311.52 C675.71,311.47 676.26,311.64 676.77,311.53 C677.32,311.41 677.81,310.97 678.36,310.82 C678.87,310.68 679.43,310.75 679.95,310.66 C680.49,310.56 681.01,310.25 681.54,310.26 C682.07,310.28 682.61,310.79 683.13,310.75 C683.67,310.71 684.17,310.16 684.72,310.04 C685.23,309.93 685.78,310.07 686.31,310.04 C686.84,310.01 687.42,310.05 687.9,309.85 C688.46,309.62 688.89,308.86 689.43,308.77 C689.91,308.69 690.46,309.14 690.96,309.36 C691.48,309.58 691.96,309.97 692.49,310.08 C692.98,310.18 693.57,310.17 694.02,309.99 C694.59,309.76 694.99,309.06 695.55,308.87 C696.01,308.71 696.59,308.81 697.08,308.92 C697.61,309.03 698.1,309.53 698.62,309.54 C699.12,309.55 699.63,309.02 700.15,308.99 C700.65,308.96 701.16,309.33 701.68,309.35 C702.18,309.38 702.75,309.01 703.21,309.14 C703.77,309.31 704.18,309.99 704.74,310.23 C705.2,310.44 705.76,310.42 706.27,310.51 C706.78,310.6 707.34,310.91 707.8,310.77 C708.36,310.61 708.81,309.64 709.33,309.62 C709.83,309.61 710.3,310.49 710.86,310.68 C711.32,310.84 711.91,310.81 712.39,310.7 C712.93,310.56 713.46,309.83 713.92,309.92 C714.48,310.03 714.87,310.98 715.45,311.29 C715.89,311.52 716.53,311.68 716.98,311.54 C717.55,311.37 718.02,310.35 718.52,310.38 C719.04,310.41 719.5,311.64 720.05,311.73 C720.52,311.81 721.04,311 721.58,310.9 C722.06,310.81 722.64,310.97 723.11,311.16 C723.66,311.37 724.09,311.97 724.64,312.12 C725.11,312.24 725.71,312.14 726.17,311.96 C726.73,311.74 727.15,311.02 727.7,310.92 C728.22,310.83 728.8,311.28 729.37,311.38 C729.91,311.48 730.48,311.55 731.03,311.53 C731.59,311.5 732.14,311.32 732.7,311.23 C733.25,311.14 733.81,310.99 734.37,310.98 C734.92,310.98 735.5,311.05 736.03,311.19 C736.61,311.35 737.21,312 737.7,311.88 C738.28,311.74 738.67,310.57 739.24,310.42 C739.7,310.3 740.26,311.03 740.79,311.06 C741.29,311.09 741.85,310.82 742.33,310.6 C742.88,310.34 743.32,309.74 743.88,309.61 C744.35,309.5 744.91,309.8 745.42,309.88 C745.94,309.96 746.46,310.15 746.97,310.11 C747.49,310.07 748.03,309.88 748.51,309.65 C749.06,309.39 749.56,308.58 750.06,308.63 C750.59,308.67 751.07,309.88 751.6,309.92 C752.07,309.96 752.52,309.14 753.05,308.87 C753.49,308.65 754.14,308.78 754.49,308.47 C755.1,307.91 755.32,306.83 755.94,306.27 C756.29,305.95 756.94,306.06 757.38,305.83 C757.91,305.55 758.31,304.83 758.83,304.73 C759.27,304.64 759.87,305.41 760.27,305.27 C760.83,305.06 761.19,304.15 761.72,303.68 C762.15,303.3 762.64,302.94 763.16,302.72 C763.6,302.55 764.13,302.52 764.61,302.5 C765.09,302.49 765.61,302.73 766.05,302.62 C766.57,302.48 767.08,302.11 767.5,301.74 C768.04,301.26 768.39,300.56 768.93,300.08 C769.34,299.7 769.86,299.23 770.36,299.18 C770.81,299.13 771.36,299.88 771.79,299.77 C772.32,299.64 772.68,298.8 773.21,298.46 C773.63,298.2 774.26,298.27 774.64,297.97 C775.21,297.52 775.52,296.71 776.07,296.22 C776.47,295.87 777,295.52 777.5,295.45 C777.95,295.38 778.51,295.92 778.93,295.81 C779.46,295.66 779.89,295.05 780.36,294.64 C780.85,294.22 781.27,293.43 781.79,293.33 C782.22,293.25 782.77,294.16 783.21,294.09 C783.73,294 784.11,293.17 784.64,292.86 C785.06,292.61 785.71,292.73 786.07,292.43 C786.66,291.94 786.93,290.7 787.5,290.49 C787.92,290.34 788.6,291.48 789.03,291.34 C789.62,291.16 789.98,289.71 790.56,289.54 C791,289.41 791.6,290.47 792.09,290.43 C792.62,290.39 793.08,289.6 793.62,289.28 C794.1,288.99 794.62,288.75 795.15,288.62 C795.64,288.5 796.18,288.51 796.68,288.52 C797.2,288.53 797.8,288.89 798.22,288.69 C798.82,288.42 799.17,287.54 799.75,287.11 C800.19,286.78 800.75,286.5 801.28,286.42 C801.77,286.34 802.34,286.74 802.81,286.63 C803.36,286.5 803.81,285.96 804.34,285.68 C804.83,285.42 805.34,285.18 805.87,285 C806.36,284.83 806.91,284.81 807.4,284.62 C807.9,284.44 808.34,284.07 808.85,283.9 C809.3,283.74 809.81,283.72 810.29,283.62 C810.78,283.52 811.26,283.42 811.74,283.27 C812.23,283.12 812.69,282.78 813.18,282.72 C813.65,282.67 814.22,283.12 814.63,282.96 C815.18,282.75 815.52,281.91 816.07,281.62 C816.48,281.41 817.09,281.63 817.52,281.45 C818.05,281.21 818.43,280.61 818.96,280.36 C819.4,280.16 819.98,280.31 820.41,280.11 C820.94,279.86 821.32,279.25 821.85,279.02 C822.28,278.83 822.87,279.05 823.3,278.88 C823.81,278.67 824.2,277.94 824.69,277.88 C825.13,277.82 825.64,278.54 826.08,278.5 C826.56,278.45 827.03,277.92 827.47,277.59 C827.96,277.21 828.33,276.62 828.86,276.37 C829.26,276.18 829.79,276.25 830.25,276.26 C830.71,276.27 831.3,276.66 831.64,276.44 C832.23,276.05 832.46,274.72 833.03,274.43 C833.39,274.25 834.01,275.14 834.42,275.04 C834.93,274.92 835.29,274.11 835.81,273.78 C836.22,273.53 836.72,273.34 837.2,273.29 C837.7,273.24 838.27,273.62 838.73,273.48 C839.29,273.31 839.7,272.59 840.26,272.35 C840.72,272.15 841.28,272.2 841.79,272.16 C842.3,272.11 842.81,272.07 843.32,272.08 C843.83,272.09 844.43,272.39 844.85,272.2 C845.45,271.93 845.8,270.92 846.38,270.72 C846.82,270.58 847.41,271.2 847.92,271.17 C848.43,271.15 848.93,270.76 849.45,270.57 C849.95,270.39 850.48,270.28 850.98,270.07 C851.5,269.85 851.98,269.51 852.51,269.29 C853,269.09 853.55,269.03 854.04,268.81 C854.57,268.57 855.03,268.13 855.57,267.93 C856.05,267.75 856.59,267.76 857.1,267.67 C857.61,267.58 858.15,267.28 858.62,267.38 C859.17,267.5 859.64,268.35 860.14,268.34 C860.65,268.33 861.12,267.57 861.66,267.33 C862.13,267.12 862.68,267.1 863.19,266.98 C863.69,266.87 864.25,266.55 864.71,266.67 C865.26,266.81 865.67,267.59 866.23,267.77 C866.68,267.91 867.26,267.74 867.75,267.63 C868.27,267.52 868.78,267.32 869.27,267.1 C869.8,266.87 870.26,266.45 870.79,266.26 C871.27,266.09 871.8,266.06 872.31,266 C872.82,265.95 873.33,265.91 873.84,265.91 C874.34,265.9 874.87,266.1 875.36,266 C875.89,265.9 876.35,265.37 876.88,265.3 C877.37,265.24 877.89,265.51 878.4,265.61" stroke="#f24646" stroke-width="2.4" fill="none" stroke-linejoin="round" stroke-linecap="round" />
<path d="M880,268.3 C880.47,268.94 880.84,269.7 881.41,270.22 C881.78,270.55 882.34,270.76 882.82,270.82 C883.28,270.89 883.76,270.64 884.24,270.6 C884.7,270.57 885.3,270.37 885.65,270.62 C886.24,271.03 886.49,272.31 887.06,272.58 C887.43,272.75 888,271.91 888.47,271.92 C888.94,271.92 889.39,272.49 889.88,272.6 C890.33,272.69 890.9,272.34 891.29,272.51 C891.84,272.74 892.19,273.44 892.71,273.82 C893.13,274.13 893.64,274.35 894.12,274.58 C894.58,274.81 895.04,275.11 895.53,275.23 C895.98,275.33 896.53,275.07 896.94,275.24 C897.47,275.46 897.83,276.26 898.35,276.41 C898.77,276.52 899.34,275.94 899.76,276.04 C900.28,276.18 900.66,276.88 901.18,277.13 C901.6,277.32 902.18,277.17 902.59,277.38 C903.12,277.65 903.47,278.39 904,278.56 C904.44,278.7 905.01,278.29 905.5,278.32 C906.01,278.34 906.54,278.5 907,278.72 C907.54,278.96 907.96,279.46 908.5,279.69 C908.96,279.89 909.55,279.78 910,279.99 C910.55,280.25 910.95,280.84 911.5,281.1 C911.95,281.32 912.53,281.24 913,281.43 C913.53,281.64 913.97,282.09 914.5,282.29 C914.97,282.46 915.51,282.42 916,282.55 C916.51,282.69 917.01,282.89 917.5,283.1 C918.01,283.32 918.49,283.8 919,283.85 C919.49,283.89 919.99,283.38 920.5,283.35 C920.99,283.32 921.6,283.4 922,283.67 C922.6,284.07 922.96,285.26 923.5,285.36 C923.96,285.44 924.53,284.15 925,284.21 C925.53,284.28 925.92,285.39 926.5,285.74 C926.92,285.99 927.52,286.09 928,286.02 C928.52,285.95 929.1,285.15 929.5,285.32 C930.1,285.57 930.39,286.76 931,287.26 C931.39,287.59 931.98,287.72 932.5,287.81 C932.98,287.88 933.52,287.65 934,287.74 C934.51,287.84 934.97,288.16 935.46,288.36 C935.94,288.56 936.45,288.97 936.92,288.93 C937.42,288.88 937.91,288.02 938.38,288.06 C938.88,288.11 939.3,288.93 939.83,289.21 C940.27,289.44 940.85,289.37 941.29,289.59 C941.82,289.85 942.22,290.38 942.75,290.64 C943.19,290.85 943.73,290.86 944.21,291 C944.7,291.13 945.17,291.38 945.67,291.45 C946.14,291.52 946.69,291.27 947.12,291.41 C947.66,291.59 948.05,292.23 948.58,292.41 C949.02,292.57 949.57,292.36 950.04,292.43 C950.54,292.51 951.02,292.87 951.5,292.87 C951.99,292.86 952.46,292.48 952.96,292.4 C953.43,292.33 953.95,292.34 954.42,292.44 C954.92,292.56 955.4,292.82 955.88,293.05 C956.38,293.3 956.81,293.76 957.33,293.9 C957.78,294.02 958.42,293.61 958.79,293.83 C959.39,294.19 959.65,295.29 960.25,295.64 C960.63,295.86 961.24,295.46 961.71,295.53 C962.21,295.6 962.67,295.91 963.17,296.08 C963.65,296.23 964.14,296.34 964.62,296.49 C965.12,296.65 965.58,296.91 966.08,297.01 C966.56,297.1 967.07,297.14 967.54,297.06 C968.04,296.99 968.61,296.38 969,296.56 C969.6,296.83 969.91,297.97 970.52,298.39 C970.92,298.66 971.53,298.61 972.04,298.62 C972.55,298.64 973.06,298.44 973.57,298.48 C974.08,298.53 974.59,298.72 975.09,298.87 C975.6,299.03 976.12,299.47 976.61,299.43 C977.13,299.39 977.69,298.52 978.13,298.63 C978.7,298.78 979.07,300.04 979.65,300.23 C980.08,300.38 980.65,299.74 981.17,299.64 C981.66,299.54 982.21,299.52 982.7,299.63 C983.23,299.74 983.75,300.02 984.22,300.32 C984.76,300.66 985.19,301.43 985.74,301.52 C986.21,301.61 986.8,300.75 987.26,300.85 C987.82,300.98 988.23,301.81 988.78,302.19 C989.25,302.52 989.79,302.94 990.3,302.97 C990.8,303 991.3,302.46 991.83,302.38 C992.32,302.3 992.85,302.39 993.35,302.49 C993.87,302.6 994.37,302.8 994.87,303 C995.39,303.21 995.87,303.51 996.39,303.72 C996.89,303.91 997.39,304.11 997.91,304.2 C998.41,304.29 998.93,304.18 999.43,304.24 C999.95,304.31 1000.47,304.68 1000.96,304.62 C1001.48,304.55 1001.95,303.92 1002.48,303.87 C1002.97,303.82 1003.49,304.18 1004,304.33 C1004.5,304.47 1005.05,304.5 1005.5,304.73 C1006.05,305.01 1006.46,305.77 1007,305.86 C1007.46,305.94 1008,305.22 1008.5,305.23 C1009,305.24 1009.51,305.95 1010,305.93 C1010.51,305.9 1010.97,305.17 1011.5,305.07 C1011.97,304.99 1012.51,305.22 1013,305.37 C1013.51,305.52 1014.03,305.71 1014.5,305.96 C1015.03,306.23 1015.46,306.71 1016,306.93 C1016.46,307.11 1017,307.1 1017.5,307.17 C1018,307.23 1018.51,307.39 1019,307.33 C1019.51,307.27 1020.01,306.79 1020.5,306.8 C1021.01,306.82 1021.48,307.3 1022,307.43 C1022.48,307.55 1023,307.48 1023.5,307.53 C1024,307.58 1024.51,307.78 1025,307.74 C1025.51,307.69 1026.09,307.11 1026.5,307.28 C1027.09,307.51 1027.45,308.85 1028,308.95 C1028.45,309.03 1029.05,307.74 1029.5,307.83 C1030.05,307.93 1030.4,309.15 1031,309.51 C1031.4,309.75 1032.09,309.82 1032.5,309.63 C1033.09,309.35 1033.46,308.17 1034,308.08 C1034.46,308.01 1034.99,308.79 1035.5,309.12 C1035.99,309.44 1036.47,309.77 1037,310.01 C1037.47,310.22 1038.02,310.54 1038.5,310.49 C1039.02,310.44 1039.47,309.87 1040,309.7 C1040.47,309.56 1041,309.57 1041.5,309.56 C1042,309.55 1042.59,309.4 1043,309.62 C1043.59,309.94 1043.97,311.13 1044.5,311.19 C1044.97,311.25 1045.47,310.03 1046,309.97 C1046.47,309.91 1046.99,310.81 1047.5,310.84 C1047.99,310.88 1048.52,310.14 1049,310.18 C1049.52,310.22 1050.01,310.77 1050.5,311.08 C1051.01,311.4 1051.53,312.13 1052,312.07 C1052.53,312 1053.01,310.67 1053.5,310.68 C1054.01,310.7 1054.43,311.96 1055,312.16 C1055.43,312.31 1056.03,311.67 1056.5,311.74 C1057.03,311.82 1057.46,312.5 1058,312.63 C1058.46,312.74 1059.02,312.6 1059.5,312.46 C1060.02,312.3 1060.56,311.63 1061,311.73 C1061.56,311.86 1061.94,313.01 1062.5,313.17 C1062.94,313.29 1063.51,312.78 1064,312.56 C1064.51,312.34 1064.98,311.96 1065.5,311.86 C1065.98,311.77 1066.55,311.8 1067,311.99 C1067.55,312.21 1067.95,312.87 1068.5,313.09 C1068.95,313.27 1069.5,313.18 1070,313.18 C1070.5,313.18 1071,313.11 1071.5,313.07 C1072,313.03 1072.52,312.87 1073,312.94 C1073.52,313.01 1073.98,313.38 1074.5,313.5 C1074.98,313.61 1075.56,313.43 1076,313.62 C1076.56,313.86 1077.02,314.82 1077.5,314.78 C1078.02,314.74 1078.51,313.34 1079,313.36 C1079.51,313.39 1079.91,314.58 1080.5,314.96 C1080.91,315.23 1081.55,315.43 1082,315.3 C1082.55,315.14 1083.04,314.03 1083.5,314.11 C1084.04,314.2 1084.5,315.24 1085,315.81" stroke="#f24646" stroke-width="2.4" fill="none" stroke-linejoin="round" stroke-linecap="round" />
<path d="M672,313.1 C677.3,311.43 682.48,309.23 687.9,308.1 C694.42,306.73 701.16,306.35 707.8,305.6 C714.42,304.85 721.13,304.65 727.7,303.6 C732.43,302.85 737.15,301.68 741.7,300.2 C745.78,298.88 749.76,297.13 753.6,295.2 C758.36,292.8 762.72,289.58 767.5,287.2 C774.02,283.95 780.63,280.69 787.5,278.3 C793.93,276.06 800.87,275.31 807.4,273.3 C812.81,271.64 817.98,269.25 823.3,267.3 C827.91,265.61 832.48,263.73 837.2,262.4 C843.74,260.56 850.4,258.94 857.1,257.8 C864.13,256.61 871.3,256.2 878.4,255.4" stroke="#1f7ff2" stroke-width="2.6" fill="none" stroke-linejoin="round" stroke-linecap="round" />
<line x1="879" y1="255.4" x2="879" y2="263.75" stroke="#22dd22" stroke-width="1.8" />
<path d="M880,263.75 C888,266.67 895.9,269.88 904,272.5 C913.9,275.71 923.9,278.73 934,281.25 C945.57,284.14 957.29,286.45 969,288.75 C980.63,291.03 992.29,293.18 1004,295 C1016.46,296.93 1028.98,298.5 1041.5,300 C1049.81,301 1058.15,301.96 1066.5,302.5 C1072.65,302.9 1078.83,302.7 1085,302.8" stroke="#1f7ff2" stroke-width="2.6" fill="none" stroke-linejoin="round" stroke-linecap="round" />
<path d="M672,306.2 C675.97,301.2 679.57,295.86 683.9,291.2 C688.2,286.56 693.06,282.39 697.9,278.3 C701.69,275.09 705.61,271.93 709.8,269.3 C713.57,266.93 717.94,265.54 721.8,263.3 C725.91,260.91 729.94,258.3 733.7,255.4 C738.54,251.67 743.19,247.64 747.6,243.4 C751.83,239.34 755.45,234.65 759.6,230.5 C763.42,226.68 767.25,222.79 771.5,219.5 C775.21,216.63 779.25,213.94 783.5,212 C787.22,210.3 791.36,209.07 795.4,208.6 C799.32,208.14 803.55,209.78 807.4,209.2 C810.18,208.78 813.15,207.42 815.3,205.6 C818.45,202.92 821.08,199.29 823.3,195.7 C826.42,190.66 828.32,184.85 831.3,179.7 C834.28,174.55 837.38,169.32 841.2,164.8 C844.68,160.69 848.81,156.9 853.2,153.8 C856.78,151.27 860.99,149.4 865.1,147.9 C867.29,147.1 869.87,146.56 872.1,146.9 C874.3,147.23 876.3,148.9 878.4,149.9" stroke="#1ea01e" stroke-width="2.6" fill="none" stroke-linejoin="round" stroke-linecap="round" />
<line x1="879" y1="149.9" x2="879" y2="109.25" stroke="#1a1aff" stroke-width="1.8" />
<path d="M880,109.25 C888,112.42 896.32,114.91 904,118.75 C915.16,124.33 925.58,131.41 936.5,137.5 C947.24,143.49 957.93,149.67 969,155 C980.43,160.5 992.08,165.69 1004,170 C1016.25,174.44 1028.88,177.94 1041.5,181.25 C1055.88,185.02 1070.5,187.92 1085,191.25" stroke="#1ea01e" stroke-width="2.6" fill="none" stroke-linejoin="round" stroke-linecap="round" />
<line x1="679" y1="26" x2="730" y2="26" stroke="#333" stroke-width="0.9" />
<line x1="819" y1="26" x2="872" y2="26" stroke="#333" stroke-width="0.9" />
<polygon points="674,26 682.5,29.2 682.5,22.8" fill="#1a1a1a" />
<polygon points="877,26 868.5,22.8 868.5,29.2" fill="#1a1a1a" />
<text x="773" y="30.33" font-size="12.1" font-weight="bold" text-anchor="middle" fill="#333" >Heating stage</text>
<line x1="886" y1="26" x2="940" y2="26" stroke="#333" stroke-width="0.9" />
<line x1="1026.5" y1="26" x2="1079" y2="26" stroke="#333" stroke-width="0.9" />
<polygon points="881,26 889.5,29.2 889.5,22.8" fill="#1a1a1a" />
<polygon points="1084,26 1075.5,22.8 1075.5,29.2" fill="#1a1a1a" />
<text x="983" y="30.33" font-size="12.1" font-weight="bold" text-anchor="middle" fill="#333" >Cooling stage</text>
<circle cx="729.5" cy="51" r="6.3" fill="none" stroke="#111" stroke-width="1.6"/>
<text x="729.5" y="54.8" font-size="11" text-anchor="middle" fill="#111" stroke="#111" stroke-width="0.45">1</text>
<circle cx="794" cy="54" r="6.3" fill="none" stroke="#111" stroke-width="1.6"/>
<text x="794" y="57.8" font-size="11" text-anchor="middle" fill="#111" stroke="#111" stroke-width="0.45">2</text>
<circle cx="840" cy="53" r="6.3" fill="none" stroke="#111" stroke-width="1.6"/>
<text x="840" y="56.8" font-size="11" text-anchor="middle" fill="#111" stroke="#111" stroke-width="0.45">3</text>
<circle cx="944.5" cy="54.5" r="6.3" fill="none" stroke="#111" stroke-width="1.6"/>
<text x="944.5" y="58.3" font-size="11" text-anchor="middle" fill="#111" stroke="#111" stroke-width="0.45">4</text>
<circle cx="1050" cy="54" r="6.3" fill="none" stroke="#111" stroke-width="1.6"/>
<text x="1050" y="57.8" font-size="11" text-anchor="middle" fill="#111" stroke="#111" stroke-width="0.45">5</text>
<line x1="970" y1="75.6" x2="995" y2="75.6" stroke="#3a3a3a" stroke-width="2.8" />
<text x="998.5" y="79.6" font-size="11.3" font-weight="bold" fill="#444"><tspan font-weight="normal" fill="#8a8a8a">Δ</tspan>R/R<tspan dy="2.8">0</tspan><tspan dy="-2.8"> of 30wt%</tspan></text>
<line x1="970" y1="96.7" x2="995" y2="96.7" stroke="#f24646" stroke-width="2.8" />
<text x="998.5" y="100.7" font-size="11.3" font-weight="bold" fill="#444"><tspan font-weight="normal" fill="#8a8a8a">Δ</tspan>R/R<tspan dy="2.8">0</tspan><tspan dy="-2.8"> of 50wt%</tspan></text>
<line x1="970" y1="117.8" x2="995" y2="117.8" stroke="#1f7ff2" stroke-width="2.8" />
<text x="998.5" y="121.8" font-size="11.3" font-weight="bold" fill="#444"><tspan font-weight="normal" fill="#8a8a8a">Δ</tspan>R/R<tspan dy="2.8">0</tspan><tspan dy="-2.8"> of 70wt%</tspan></text>
<line x1="970" y1="138.8" x2="995" y2="138.8" stroke="#1ea01e" stroke-width="2.8" />
<text x="998.5" y="142.8" font-size="11.3" font-weight="bold" fill="#444"><tspan font-weight="normal" fill="#8a8a8a">Δ</tspan>R/R<tspan dy="2.8">0</tspan><tspan dy="-2.8"> of 90wt%</tspan></text>
<rect x="671.4" y="66" width="414.6" height="318" fill="none" stroke="#000" stroke-width="2.6"/>
<line x1="671.4" y1="9" x2="671.4" y2="66" stroke="#000" stroke-width="2.6" />
<line x1="879" y1="9" x2="879" y2="66" stroke="#000" stroke-width="2.6" />
<line x1="1086" y1="8" x2="1086" y2="66" stroke="#000" stroke-width="2.6" />
<line x1="671.4" y1="370.2" x2="676.4" y2="370.2" stroke="#000" stroke-width="2.2" />
<line x1="671.4" y1="342.6" x2="676.4" y2="342.6" stroke="#000" stroke-width="2.2" />
<line x1="671.4" y1="315" x2="676.4" y2="315" stroke="#000" stroke-width="2.2" />
<line x1="671.4" y1="287.4" x2="676.4" y2="287.4" stroke="#000" stroke-width="2.2" />
<line x1="671.4" y1="259.8" x2="676.4" y2="259.8" stroke="#000" stroke-width="2.2" />
<line x1="671.4" y1="232.2" x2="676.4" y2="232.2" stroke="#000" stroke-width="2.2" />
<line x1="671.4" y1="204.6" x2="676.4" y2="204.6" stroke="#000" stroke-width="2.2" />
<line x1="671.4" y1="177" x2="676.4" y2="177" stroke="#000" stroke-width="2.2" />
<line x1="671.4" y1="149.4" x2="676.4" y2="149.4" stroke="#000" stroke-width="2.2" />
<line x1="671.4" y1="121.8" x2="676.4" y2="121.8" stroke="#000" stroke-width="2.2" />
<line x1="671.4" y1="94.2" x2="676.4" y2="94.2" stroke="#000" stroke-width="2.2" />
<line x1="671.4" y1="66.6" x2="676.4" y2="66.6" stroke="#000" stroke-width="2.2" />
<line x1="671.4" y1="384" x2="674.4" y2="384" stroke="#000" stroke-width="2.2" />
<line x1="671.4" y1="356.4" x2="674.4" y2="356.4" stroke="#000" stroke-width="2.2" />
<line x1="671.4" y1="328.8" x2="674.4" y2="328.8" stroke="#000" stroke-width="2.2" />
<line x1="671.4" y1="301.2" x2="674.4" y2="301.2" stroke="#000" stroke-width="2.2" />
<line x1="671.4" y1="273.6" x2="674.4" y2="273.6" stroke="#000" stroke-width="2.2" />
<line x1="671.4" y1="246" x2="674.4" y2="246" stroke="#000" stroke-width="2.2" />
<line x1="671.4" y1="218.4" x2="674.4" y2="218.4" stroke="#000" stroke-width="2.2" />
<line x1="671.4" y1="190.8" x2="674.4" y2="190.8" stroke="#000" stroke-width="2.2" />
<line x1="671.4" y1="163.2" x2="674.4" y2="163.2" stroke="#000" stroke-width="2.2" />
<line x1="671.4" y1="135.6" x2="674.4" y2="135.6" stroke="#000" stroke-width="2.2" />
<line x1="671.4" y1="108" x2="674.4" y2="108" stroke="#000" stroke-width="2.2" />
<line x1="671.4" y1="80.4" x2="674.4" y2="80.4" stroke="#000" stroke-width="2.2" />
<line x1="671.4" y1="384" x2="671.4" y2="379" stroke="#000" stroke-width="2.2" />
<line x1="697.45" y1="384" x2="697.45" y2="379" stroke="#000" stroke-width="2.2" />
<line x1="723.5" y1="384" x2="723.5" y2="379" stroke="#000" stroke-width="2.2" />
<line x1="749.55" y1="384" x2="749.55" y2="379" stroke="#000" stroke-width="2.2" />
<line x1="775.6" y1="384" x2="775.6" y2="379" stroke="#000" stroke-width="2.2" />
<line x1="801.65" y1="384" x2="801.65" y2="379" stroke="#000" stroke-width="2.2" />
<line x1="827.7" y1="384" x2="827.7" y2="379" stroke="#000" stroke-width="2.2" />
<line x1="853.75" y1="384" x2="853.75" y2="379" stroke="#000" stroke-width="2.2" />
<line x1="879.8" y1="384" x2="879.8" y2="379" stroke="#000" stroke-width="2.2" />
<line x1="684.42" y1="384" x2="684.42" y2="381" stroke="#000" stroke-width="2.2" />
<line x1="710.48" y1="384" x2="710.48" y2="381" stroke="#000" stroke-width="2.2" />
<line x1="736.52" y1="384" x2="736.52" y2="381" stroke="#000" stroke-width="2.2" />
<line x1="762.57" y1="384" x2="762.57" y2="381" stroke="#000" stroke-width="2.2" />
<line x1="788.62" y1="384" x2="788.62" y2="381" stroke="#000" stroke-width="2.2" />
<line x1="814.67" y1="384" x2="814.67" y2="381" stroke="#000" stroke-width="2.2" />
<line x1="840.72" y1="384" x2="840.72" y2="381" stroke="#000" stroke-width="2.2" />
<line x1="866.77" y1="384" x2="866.77" y2="381" stroke="#000" stroke-width="2.2" />
<line x1="1072.2" y1="384" x2="1072.2" y2="379" stroke="#000" stroke-width="2.2" />
<line x1="1044.6" y1="384" x2="1044.6" y2="379" stroke="#000" stroke-width="2.2" />
<line x1="1017" y1="384" x2="1017" y2="379" stroke="#000" stroke-width="2.2" />
<line x1="989.4" y1="384" x2="989.4" y2="379" stroke="#000" stroke-width="2.2" />
<line x1="961.8" y1="384" x2="961.8" y2="379" stroke="#000" stroke-width="2.2" />
<line x1="934.2" y1="384" x2="934.2" y2="379" stroke="#000" stroke-width="2.2" />
<line x1="906.6" y1="384" x2="906.6" y2="379" stroke="#000" stroke-width="2.2" />
<line x1="1058.4" y1="384" x2="1058.4" y2="381" stroke="#000" stroke-width="2.2" />
<line x1="1030.8" y1="384" x2="1030.8" y2="381" stroke="#000" stroke-width="2.2" />
<line x1="1003.2" y1="384" x2="1003.2" y2="381" stroke="#000" stroke-width="2.2" />
<line x1="975.6" y1="384" x2="975.6" y2="381" stroke="#000" stroke-width="2.2" />
<line x1="948" y1="384" x2="948" y2="381" stroke="#000" stroke-width="2.2" />
<line x1="920.4" y1="384" x2="920.4" y2="381" stroke="#000" stroke-width="2.2" />
<line x1="892.8" y1="384" x2="892.8" y2="381" stroke="#000" stroke-width="2.2" />
<text x="666" y="374.83" font-size="14.6" font-weight="bold" text-anchor="end" fill="#000" >−0.10</text>
<text x="666" y="347.23" font-size="14.6" font-weight="bold" text-anchor="end" fill="#000" >−0.05</text>
<text x="666" y="319.63" font-size="14.6" font-weight="bold" text-anchor="end" fill="#000" >0.00</text>
<text x="666" y="292.03" font-size="14.6" font-weight="bold" text-anchor="end" fill="#000" >0.05</text>
<text x="666" y="264.43" font-size="14.6" font-weight="bold" text-anchor="end" fill="#000" >0.10</text>
<text x="666" y="236.83" font-size="14.6" font-weight="bold" text-anchor="end" fill="#000" >0.15</text>
<text x="666" y="209.23" font-size="14.6" font-weight="bold" text-anchor="end" fill="#000" >0.20</text>
<text x="666" y="181.63" font-size="14.6" font-weight="bold" text-anchor="end" fill="#000" >0.25</text>
<text x="666" y="154.03" font-size="14.6" font-weight="bold" text-anchor="end" fill="#000" >0.30</text>
<text x="666" y="126.43" font-size="14.6" font-weight="bold" text-anchor="end" fill="#000" >0.35</text>
<text x="666" y="98.83" font-size="14.6" font-weight="bold" text-anchor="end" fill="#000" >0.40</text>
<text x="666" y="71.23" font-size="14.6" font-weight="bold" text-anchor="end" fill="#000" >0.45</text>
<text x="671.4" y="400.37" font-size="15" font-weight="bold" text-anchor="middle" fill="#000" >20</text>
<text x="697.45" y="400.37" font-size="15" font-weight="bold" text-anchor="middle" fill="#000" >40</text>
<text x="723.5" y="400.37" font-size="15" font-weight="bold" text-anchor="middle" fill="#000" >60</text>
<text x="749.55" y="400.37" font-size="15" font-weight="bold" text-anchor="middle" fill="#000" >80</text>
<text x="775.6" y="400.37" font-size="15" font-weight="bold" text-anchor="middle" fill="#000" >100</text>
<text x="801.65" y="400.37" font-size="15" font-weight="bold" text-anchor="middle" fill="#000" >120</text>
<text x="827.7" y="400.37" font-size="15" font-weight="bold" text-anchor="middle" fill="#000" >140</text>
<text x="853.75" y="400.37" font-size="15" font-weight="bold" text-anchor="middle" fill="#000" >160</text>
<text x="879.8" y="400.37" font-size="15" font-weight="bold" text-anchor="middle" fill="#000" >180</text>
<text x="1072.2" y="400.37" font-size="15" font-weight="bold" text-anchor="middle" fill="#000" >40</text>
<text x="1044.6" y="400.37" font-size="15" font-weight="bold" text-anchor="middle" fill="#000" >60</text>
<text x="1017" y="400.37" font-size="15" font-weight="bold" text-anchor="middle" fill="#000" >80</text>
<text x="989.4" y="400.37" font-size="15" font-weight="bold" text-anchor="middle" fill="#000" >100</text>
<text x="961.8" y="400.37" font-size="15" font-weight="bold" text-anchor="middle" fill="#000" >120</text>
<text x="934.2" y="400.37" font-size="15" font-weight="bold" text-anchor="middle" fill="#000" >140</text>
<text x="906.6" y="400.37" font-size="15" font-weight="bold" text-anchor="middle" fill="#000" >160</text>
<text x="885.8" y="432.74" font-size="24.4" font-weight="bold" text-anchor="middle" fill="#000" >Temperature (°C)</text>
<text transform="translate(624.5,233.2) rotate(-90)" font-size="24.5" font-weight="bold" text-anchor="middle" fill="#000" ><tspan font-weight="normal" font-size="21">Δ</tspan>R/R<tspan dy="3.5">0</tspan></text>
<text x="682.6" y="90.6" font-size="29.3" fill="#000" stroke="#000" stroke-width="0.65">(b)</text>
<rect x="110.25" y="766.06" width="62" height="30.44" fill="#f8d5b9" stroke="#f9c3cc" stroke-width="0.8"/>
<rect x="211.99" y="723.82" width="62" height="72.68" fill="#f8d5b9" stroke="#f9c3cc" stroke-width="0.8"/>
<rect x="313.73" y="708.86" width="62" height="87.64" fill="#f8d5b9" stroke="#f9c3cc" stroke-width="0.8"/>
<rect x="415.47" y="548.4" width="62" height="248.1" fill="#f8d5b9" stroke="#f9c3cc" stroke-width="0.8"/>
<text x="141.25" y="787.33" font-size="13.5" font-weight="normal" text-anchor="middle" fill="#5a5a5a" >2.32</text>
<text x="242.5" y="766.08" font-size="13.5" font-weight="normal" text-anchor="middle" fill="#5a5a5a" >5.54</text>
<text x="344.5" y="757.83" font-size="13.5" font-weight="normal" text-anchor="middle" fill="#5a5a5a" >6.68</text>
<text x="446.5" y="677.83" font-size="13.5" font-weight="normal" text-anchor="middle" fill="#5a5a5a" >18.91</text>
<polyline points="141.25,702.92 242.99,674.03 344.73,652.93 446.47,527.69" fill="none" stroke="#111" stroke-width="1.5"/>
<polyline points="141.25,715.55 242.99,714.43 344.73,713.53 446.47,721.4" fill="none" stroke="#111" stroke-width="1.5"/>
<polyline points="141.25,707.06 242.99,685.04 344.73,688.58 446.47,608.38" fill="none" stroke="#111" stroke-width="1.5"/>
<polyline points="141.25,749.48 242.99,722.21 344.73,725.85 446.47,651.71" fill="none" stroke="#111" stroke-width="1.5"/>
<circle cx="141.25" cy="715.55" r="4.3" fill="#f01818"/>
<circle cx="242.99" cy="714.43" r="4.3" fill="#f01818"/>
<circle cx="344.73" cy="713.53" r="4.3" fill="#f01818"/>
<circle cx="446.47" cy="721.4" r="4.3" fill="#f01818"/>
<polygon points="141.25,754.44 136.5,746.18 146,746.18" fill="#1a7f1a" />
<polygon points="242.99,727.17 238.24,718.91 247.74,718.91" fill="#1a7f1a" />
<polygon points="344.73,730.81 339.98,722.54 349.48,722.54" fill="#1a7f1a" />
<polygon points="446.47,656.67 441.72,648.41 451.22,648.41" fill="#1a7f1a" />
<polygon points="141.25,702.1 136.5,710.37 146,710.37" fill="#1414f5" />
<polygon points="242.99,680.09 238.24,688.35 247.74,688.35" fill="#1414f5" />
<polygon points="344.73,683.62 339.98,691.88 349.48,691.88" fill="#1414f5" />
<polygon points="446.47,603.43 441.72,611.69 451.22,611.69" fill="#1414f5" />
<rect x="137.55" y="699.22" width="7.4" height="7.4" fill="#000" />
<rect x="239.29" y="670.33" width="7.4" height="7.4" fill="#000" />
<rect x="341.03" y="649.23" width="7.4" height="7.4" fill="#000" />
<rect x="442.77" y="523.99" width="7.4" height="7.4" fill="#000" />
<text x="141.25" y="693.65" font-size="11.6" font-weight="bold" text-anchor="middle" fill="#111" >1.79</text>
<text x="241" y="662.9" font-size="11.6" font-weight="bold" text-anchor="middle" fill="#111" >4.65</text>
<text x="332" y="644.65" font-size="11.6" font-weight="bold" text-anchor="middle" fill="#111" >6.74</text>
<text x="427.5" y="523.15" font-size="11.6" font-weight="bold" text-anchor="middle" fill="#111" >19.14</text>
<text x="121.5" y="709.65" font-size="11.6" font-weight="bold" text-anchor="middle" fill="#1414f5" >1.38</text>
<text x="242.5" y="698.65" font-size="11.6" font-weight="bold" text-anchor="middle" fill="#1414f5" >3.56</text>
<text x="332" y="679.65" font-size="11.6" font-weight="bold" text-anchor="middle" fill="#1414f5" >3.21</text>
<text x="444.8" y="596.75" font-size="11.6" font-weight="bold" text-anchor="middle" fill="#1414f5" >11.15</text>
<text x="138.75" y="732.15" font-size="11.6" font-weight="bold" text-anchor="middle" fill="#f01818" >0.54</text>
<text x="242.5" y="710.4" font-size="11.6" font-weight="bold" text-anchor="middle" fill="#f01818" >0.65</text>
<text x="340.5" y="706.65" font-size="11.6" font-weight="bold" text-anchor="middle" fill="#f01818" >0.74</text>
<text x="450" y="737.9" font-size="11.6" font-weight="bold" text-anchor="middle" fill="#f01818" >−0.04</text>
<text x="122.5" y="754.65" font-size="11.6" font-weight="bold" text-anchor="middle" fill="#1a7f1a" >−2.82</text>
<text x="245" y="737.9" font-size="11.6" font-weight="bold" text-anchor="middle" fill="#1a7f1a" >−0.12</text>
<text x="366.75" y="734.15" font-size="11.6" font-weight="bold" text-anchor="middle" fill="#1a7f1a" >−0.48</text>
<text x="444.8" y="645.35" font-size="11.6" font-weight="bold" text-anchor="middle" fill="#1a7f1a" >6.86</text>
<line x1="180.3" y1="491.3" x2="193.2" y2="491.3" stroke="#2a2a2a" stroke-width="1.8" />
<line x1="203.4" y1="491.3" x2="216.1" y2="491.3" stroke="#2a2a2a" stroke-width="1.8" />
<rect x="194.9" y="487.8" width="7" height="7" fill="#000" />
<line x1="180.3" y1="510.2" x2="193.2" y2="510.2" stroke="#2a2a2a" stroke-width="1.8" />
<line x1="203.4" y1="510.2" x2="216.1" y2="510.2" stroke="#2a2a2a" stroke-width="1.8" />
<circle cx="198.4" cy="510.2" r="4.3" fill="#f01818"/>
<line x1="180.3" y1="529.7" x2="193.2" y2="529.7" stroke="#2a2a2a" stroke-width="1.8" />
<line x1="203.4" y1="529.7" x2="216.1" y2="529.7" stroke="#2a2a2a" stroke-width="1.8" />
<polygon points="198.4,525 193.9,532.83 202.9,532.83" fill="#1414f5" />
<line x1="180.3" y1="549.3" x2="193.2" y2="549.3" stroke="#2a2a2a" stroke-width="1.8" />
<line x1="203.4" y1="549.3" x2="216.1" y2="549.3" stroke="#2a2a2a" stroke-width="1.8" />
<polygon points="198.4,554 193.9,546.17 202.9,546.17" fill="#1a7f1a" />
<text x="220.2" y="496.67" font-size="15" font-weight="bold" text-anchor="start" fill="#3a3a3a" >Heating stage-1</text>
<text x="220.2" y="515.57" font-size="15" font-weight="bold" text-anchor="start" fill="#3a3a3a" >Heating stage-2</text>
<text x="220.2" y="535.07" font-size="15" font-weight="bold" text-anchor="start" fill="#3a3a3a" >Heating stage-3</text>
<text x="220.2" y="554.67" font-size="15" font-weight="bold" text-anchor="start" fill="#3a3a3a" >Isothermal stage</text>
<rect x="180.3" y="559.8" width="37" height="18.4" fill="#f8d5b9" stroke="#f9c3cc" stroke-width="0.8"/>
<text x="223.6" y="574.33" font-size="13.2" font-weight="bold" text-anchor="start" fill="#3a3a3a" >TCR</text>
<rect x="90.6" y="469" width="407" height="327.5" fill="none" stroke="#000" stroke-width="2.6"/>
<line x1="90.6" y1="771.5" x2="96.6" y2="771.5" stroke="#000" stroke-width="2.2" />
<line x1="90.6" y1="721" x2="96.6" y2="721" stroke="#000" stroke-width="2.2" />
<line x1="90.6" y1="670.5" x2="96.6" y2="670.5" stroke="#000" stroke-width="2.2" />
<line x1="90.6" y1="620" x2="96.6" y2="620" stroke="#000" stroke-width="2.2" />
<line x1="90.6" y1="569.5" x2="96.6" y2="569.5" stroke="#000" stroke-width="2.2" />
<line x1="90.6" y1="519" x2="96.6" y2="519" stroke="#000" stroke-width="2.2" />
<line x1="90.6" y1="468.5" x2="96.6" y2="468.5" stroke="#000" stroke-width="2.2" />
<line x1="90.6" y1="796.75" x2="94.1" y2="796.75" stroke="#000" stroke-width="2.2" />
<line x1="90.6" y1="746.25" x2="94.1" y2="746.25" stroke="#000" stroke-width="2.2" />
<line x1="90.6" y1="695.75" x2="94.1" y2="695.75" stroke="#000" stroke-width="2.2" />
<line x1="90.6" y1="645.25" x2="94.1" y2="645.25" stroke="#000" stroke-width="2.2" />
<line x1="90.6" y1="594.75" x2="94.1" y2="594.75" stroke="#000" stroke-width="2.2" />
<line x1="90.6" y1="544.25" x2="94.1" y2="544.25" stroke="#000" stroke-width="2.2" />
<line x1="90.6" y1="493.75" x2="94.1" y2="493.75" stroke="#000" stroke-width="2.2" />
<line x1="497.6" y1="796.5" x2="491.6" y2="796.5" stroke="#000" stroke-width="2.2" />
<line x1="497.6" y1="757.14" x2="491.6" y2="757.14" stroke="#000" stroke-width="2.2" />
<line x1="497.6" y1="717.78" x2="491.6" y2="717.78" stroke="#000" stroke-width="2.2" />
<line x1="497.6" y1="678.42" x2="491.6" y2="678.42" stroke="#000" stroke-width="2.2" />
<line x1="497.6" y1="639.06" x2="491.6" y2="639.06" stroke="#000" stroke-width="2.2" />
<line x1="497.6" y1="599.7" x2="491.6" y2="599.7" stroke="#000" stroke-width="2.2" />
<line x1="497.6" y1="560.34" x2="491.6" y2="560.34" stroke="#000" stroke-width="2.2" />
<line x1="497.6" y1="520.98" x2="491.6" y2="520.98" stroke="#000" stroke-width="2.2" />
<line x1="497.6" y1="481.62" x2="491.6" y2="481.62" stroke="#000" stroke-width="2.2" />
<line x1="497.6" y1="776.82" x2="494.1" y2="776.82" stroke="#000" stroke-width="2.2" />
<line x1="497.6" y1="737.46" x2="494.1" y2="737.46" stroke="#000" stroke-width="2.2" />
<line x1="497.6" y1="698.1" x2="494.1" y2="698.1" stroke="#000" stroke-width="2.2" />
<line x1="497.6" y1="658.74" x2="494.1" y2="658.74" stroke="#000" stroke-width="2.2" />
<line x1="497.6" y1="619.38" x2="494.1" y2="619.38" stroke="#000" stroke-width="2.2" />
<line x1="497.6" y1="580.02" x2="494.1" y2="580.02" stroke="#000" stroke-width="2.2" />
<line x1="497.6" y1="540.66" x2="494.1" y2="540.66" stroke="#000" stroke-width="2.2" />
<line x1="497.6" y1="501.3" x2="494.1" y2="501.3" stroke="#000" stroke-width="2.2" />
<line x1="192.12" y1="796.5" x2="192.12" y2="792.5" stroke="#000" stroke-width="2.2" />
<line x1="293.86" y1="796.5" x2="293.86" y2="792.5" stroke="#000" stroke-width="2.2" />
<line x1="395.6" y1="796.5" x2="395.6" y2="792.5" stroke="#000" stroke-width="2.2" />
<text x="83.2" y="777.1" font-size="19" font-weight="bold" text-anchor="end" fill="#000" >−5</text>
<text x="83.2" y="726.6" font-size="19" font-weight="bold" text-anchor="end" fill="#000" >0</text>
<text x="83.2" y="676.1" font-size="19" font-weight="bold" text-anchor="end" fill="#000" >5</text>
<text x="83.2" y="625.6" font-size="19" font-weight="bold" text-anchor="end" fill="#000" >10</text>
<text x="83.2" y="575.1" font-size="19" font-weight="bold" text-anchor="end" fill="#000" >15</text>
<text x="83.2" y="524.6" font-size="19" font-weight="bold" text-anchor="end" fill="#000" >20</text>
<text x="83.2" y="474.1" font-size="19" font-weight="bold" text-anchor="end" fill="#000" >25</text>
<text x="503.3" y="802.3" font-size="19" font-weight="bold" text-anchor="start" fill="#000" >0</text>
<text x="503.3" y="762.94" font-size="19" font-weight="bold" text-anchor="start" fill="#000" >3</text>
<text x="503.3" y="723.58" font-size="19" font-weight="bold" text-anchor="start" fill="#000" >6</text>
<text x="503.3" y="684.22" font-size="19" font-weight="bold" text-anchor="start" fill="#000" >9</text>
<text x="503.3" y="644.86" font-size="19" font-weight="bold" text-anchor="start" fill="#000" >12</text>
<text x="503.3" y="605.5" font-size="19" font-weight="bold" text-anchor="start" fill="#000" >15</text>
<text x="503.3" y="566.14" font-size="19" font-weight="bold" text-anchor="start" fill="#000" >18</text>
<text x="503.3" y="526.78" font-size="19" font-weight="bold" text-anchor="start" fill="#000" >21</text>
<text x="503.3" y="487.42" font-size="19" font-weight="bold" text-anchor="start" fill="#000" >24</text>
<text x="141.25" y="819.3" font-size="19" font-weight="bold" text-anchor="middle" fill="#000" >30</text>
<text x="242.99" y="819.3" font-size="19" font-weight="bold" text-anchor="middle" fill="#000" >50</text>
<text x="344.73" y="819.3" font-size="19" font-weight="bold" text-anchor="middle" fill="#000" >70</text>
<text x="446.47" y="819.3" font-size="19" font-weight="bold" text-anchor="middle" fill="#000" >90</text>
<text x="294.3" y="845.62" font-size="28" font-weight="bold" text-anchor="middle" fill="#000" >Resin Content (wt%)</text>
<text transform="translate(48.4,633.2) rotate(-90)" font-size="27.7" font-weight="bold" text-anchor="middle" fill="#000" >Amplitude of <tspan font-weight="normal">Δ</tspan>R/R<tspan dy="3">0</tspan><tspan dy="-3"> (%)</tspan></text>
<text transform="translate(557,628.2) rotate(-90)" font-size="27" font-weight="bold" text-anchor="middle" fill="#000" >TCR (×10<tspan dy="-11.5" font-size="17">-4</tspan><tspan dy="11.5"> </tspan><tspan font-weight="normal">°</tspan>C<tspan dy="-11.5" font-size="17">-1</tspan><tspan dy="11.5">)</tspan></text>
<text x="103.5" y="502.2" font-size="29.3" fill="#000" stroke="#000" stroke-width="0.65">(c)</text>
<line x1="685" y1="763.5" x2="1054" y2="763.5" stroke="#f25555" stroke-width="1.3" stroke-dasharray="7,5"/>
<line x1="1010.7" y1="467" x2="1010.7" y2="791" stroke="#f25555" stroke-width="1.3" stroke-dasharray="7,4.5"/>
<polyline points="671.25,746.5 692.5,752.5 717.5,758.75 742.5,762 780,763.75 830,765 900,765.2 940,764.7 956.3,763.3 971.2,760.9 980.7,757.9 987.5,753.1 995,742.3 999.7,725.3 1003.1,710.4 1004.7,696.8 1005.6,690 1008.6,635 1010.6,605 1012.5,540 1013.5,466" fill="none" stroke="#1f7ff2" stroke-width="3" stroke-linejoin="round" stroke-linecap="round" />
<text x="1016.2" y="725.3" font-size="14" font-weight="bold" fill="#f25555"><tspan font-style="italic" font-size="15.2">T</tspan><tspan font-size="10" font-style="italic" dy="3">Gel</tspan><tspan dy="-3"> =95°C</tspan></text>
<line x1="1024.8" y1="734.8" x2="1017.78" y2="754.97" stroke="#f25555" stroke-width="0.9" />
<polygon points="1016.2,759.5 1021.29,752.8 1016.38,751.09" fill="#f25555" />
<rect x="669.6" y="466.6" width="419.8" height="336.9" fill="none" stroke="#000" stroke-width="2.6"/>
<line x1="669.6" y1="803.75" x2="675.6" y2="803.75" stroke="#000" stroke-width="2.2" />
<line x1="669.6" y1="766.25" x2="675.6" y2="766.25" stroke="#000" stroke-width="2.2" />
<line x1="669.6" y1="728.75" x2="675.6" y2="728.75" stroke="#000" stroke-width="2.2" />
<line x1="669.6" y1="691.25" x2="675.6" y2="691.25" stroke="#000" stroke-width="2.2" />
<line x1="669.6" y1="653.75" x2="675.6" y2="653.75" stroke="#000" stroke-width="2.2" />
<line x1="669.6" y1="616.25" x2="675.6" y2="616.25" stroke="#000" stroke-width="2.2" />
<line x1="669.6" y1="578.75" x2="675.6" y2="578.75" stroke="#000" stroke-width="2.2" />
<line x1="669.6" y1="541.25" x2="675.6" y2="541.25" stroke="#000" stroke-width="2.2" />
<line x1="669.6" y1="503.75" x2="675.6" y2="503.75" stroke="#000" stroke-width="2.2" />
<line x1="669.6" y1="466.25" x2="675.6" y2="466.25" stroke="#000" stroke-width="2.2" />
<line x1="669.6" y1="785" x2="673.1" y2="785" stroke="#000" stroke-width="2.2" />
<line x1="669.6" y1="747.5" x2="673.1" y2="747.5" stroke="#000" stroke-width="2.2" />
<line x1="669.6" y1="710" x2="673.1" y2="710" stroke="#000" stroke-width="2.2" />
<line x1="669.6" y1="672.5" x2="673.1" y2="672.5" stroke="#000" stroke-width="2.2" />
<line x1="669.6" y1="635" x2="673.1" y2="635" stroke="#000" stroke-width="2.2" />
<line x1="669.6" y1="597.5" x2="673.1" y2="597.5" stroke="#000" stroke-width="2.2" />
<line x1="669.6" y1="560" x2="673.1" y2="560" stroke="#000" stroke-width="2.2" />
<line x1="669.6" y1="522.5" x2="673.1" y2="522.5" stroke="#000" stroke-width="2.2" />
<line x1="669.6" y1="485" x2="673.1" y2="485" stroke="#000" stroke-width="2.2" />
<line x1="670" y1="803.5" x2="670" y2="797.5" stroke="#000" stroke-width="2.2" />
<line x1="716.55" y1="803.5" x2="716.55" y2="797.5" stroke="#000" stroke-width="2.2" />
<line x1="763.1" y1="803.5" x2="763.1" y2="797.5" stroke="#000" stroke-width="2.2" />
<line x1="809.65" y1="803.5" x2="809.65" y2="797.5" stroke="#000" stroke-width="2.2" />
<line x1="856.2" y1="803.5" x2="856.2" y2="797.5" stroke="#000" stroke-width="2.2" />
<line x1="902.75" y1="803.5" x2="902.75" y2="797.5" stroke="#000" stroke-width="2.2" />
<line x1="949.3" y1="803.5" x2="949.3" y2="797.5" stroke="#000" stroke-width="2.2" />
<line x1="995.85" y1="803.5" x2="995.85" y2="797.5" stroke="#000" stroke-width="2.2" />
<line x1="1042.4" y1="803.5" x2="1042.4" y2="797.5" stroke="#000" stroke-width="2.2" />
<line x1="1088.95" y1="803.5" x2="1088.95" y2="797.5" stroke="#000" stroke-width="2.2" />
<line x1="693.27" y1="803.5" x2="693.27" y2="800" stroke="#000" stroke-width="2.2" />
<line x1="739.83" y1="803.5" x2="739.83" y2="800" stroke="#000" stroke-width="2.2" />
<line x1="786.38" y1="803.5" x2="786.38" y2="800" stroke="#000" stroke-width="2.2" />
<line x1="832.92" y1="803.5" x2="832.92" y2="800" stroke="#000" stroke-width="2.2" />
<line x1="879.48" y1="803.5" x2="879.48" y2="800" stroke="#000" stroke-width="2.2" />
<line x1="926.03" y1="803.5" x2="926.03" y2="800" stroke="#000" stroke-width="2.2" />
<line x1="972.58" y1="803.5" x2="972.58" y2="800" stroke="#000" stroke-width="2.2" />
<line x1="1019.12" y1="803.5" x2="1019.12" y2="800" stroke="#000" stroke-width="2.2" />
<line x1="1065.67" y1="803.5" x2="1065.67" y2="800" stroke="#000" stroke-width="2.2" />
<text x="662.6" y="809.53" font-size="19.5" font-weight="bold" text-anchor="end" fill="#000" >−10</text>
<text x="662.6" y="772.03" font-size="19.5" font-weight="bold" text-anchor="end" fill="#000" >0</text>
<text x="662.6" y="734.53" font-size="19.5" font-weight="bold" text-anchor="end" fill="#000" >10</text>
<text x="662.6" y="697.03" font-size="19.5" font-weight="bold" text-anchor="end" fill="#000" >20</text>
<text x="662.6" y="659.53" font-size="19.5" font-weight="bold" text-anchor="end" fill="#000" >30</text>
<text x="662.6" y="622.03" font-size="19.5" font-weight="bold" text-anchor="end" fill="#000" >40</text>
<text x="662.6" y="584.53" font-size="19.5" font-weight="bold" text-anchor="end" fill="#000" >50</text>
<text x="662.6" y="547.03" font-size="19.5" font-weight="bold" text-anchor="end" fill="#000" >60</text>
<text x="662.6" y="509.53" font-size="19.5" font-weight="bold" text-anchor="end" fill="#000" >70</text>
<text x="662.6" y="472.03" font-size="19.5" font-weight="bold" text-anchor="end" fill="#000" >80</text>
<text x="670" y="826.98" font-size="19.5" font-weight="bold" text-anchor="middle" fill="#000" >20</text>
<text x="716.55" y="826.98" font-size="19.5" font-weight="bold" text-anchor="middle" fill="#000" >30</text>
<text x="763.1" y="826.98" font-size="19.5" font-weight="bold" text-anchor="middle" fill="#000" >40</text>
<text x="809.65" y="826.98" font-size="19.5" font-weight="bold" text-anchor="middle" fill="#000" >50</text>
<text x="856.2" y="826.98" font-size="19.5" font-weight="bold" text-anchor="middle" fill="#000" >60</text>
<text x="902.75" y="826.98" font-size="19.5" font-weight="bold" text-anchor="middle" fill="#000" >70</text>
<text x="949.3" y="826.98" font-size="19.5" font-weight="bold" text-anchor="middle" fill="#000" >80</text>
<text x="995.85" y="826.98" font-size="19.5" font-weight="bold" text-anchor="middle" fill="#000" >90</text>
<text x="1042.4" y="826.98" font-size="19.5" font-weight="bold" text-anchor="middle" fill="#000" >100</text>
<text x="1088.95" y="826.98" font-size="19.5" font-weight="bold" text-anchor="middle" fill="#000" >110</text>
<text x="879.3" y="864.37" font-size="28.4" font-weight="bold" text-anchor="middle" fill="#000" >Temperature (<tspan font-weight="normal" font-size="31" dy="4">°</tspan><tspan dy="-4">C)</tspan></text>
<text transform="translate(622.8,635.6) rotate(-90)" font-size="27" font-weight="bold" text-anchor="middle" fill="#000" ><tspan font-size="28.6">Viscosity </tspan>(<tspan font-size="23">Pa·S</tspan>)</text>
<text x="683.0" y="502.2" font-size="29.3" fill="#000" stroke="#000" stroke-width="0.65">(d)</text>
<line x1="246" y1="918.5" x2="465" y2="918.5" stroke="#9a9a9a" stroke-width="1" stroke-dasharray="1.3,2.7"/>
<line x1="400" y1="1008.7" x2="460" y2="1008.7" stroke="#9a9a9a" stroke-width="1" stroke-dasharray="1.3,2.7"/>
<line x1="339" y1="1109.3" x2="460" y2="1109.3" stroke="#9a9a9a" stroke-width="1" stroke-dasharray="1.3,2.7"/>
<line x1="155" y1="1158" x2="463.7" y2="1158" stroke="#9a9a9a" stroke-width="1" stroke-dasharray="1.3,2.7"/>
<line x1="410.5" y1="921.5" x2="410.5" y2="1005.7" stroke="#f46a6a" stroke-width="0.8" />
<polygon points="410.5,918.5 408.1,925 412.9,925" fill="#f04848" />
<polygon points="410.5,1008.7 412.9,1002.2 408.1,1002.2" fill="#f04848" />
<line x1="410.5" y1="1011.7" x2="410.5" y2="1106.3" stroke="#f46a6a" stroke-width="0.8" />
<polygon points="410.5,1008.7 408.1,1015.2 412.9,1015.2" fill="#f04848" />
<polygon points="410.5,1109.3 412.9,1102.8 408.1,1102.8" fill="#f04848" />
<line x1="410.5" y1="1112.3" x2="410.5" y2="1155" stroke="#f46a6a" stroke-width="0.8" />
<polygon points="410.5,1109.3 408.1,1115.8 412.9,1115.8" fill="#f04848" />
<polygon points="410.5,1158 412.9,1151.5 408.1,1151.5" fill="#f04848" />
<line x1="120.5" y1="1044" x2="267.57" y2="922.06" stroke="#2a88f0" stroke-width="1.6" />
<polygon points="271.5,918.8 262.91,921.76 267,926.69" fill="#2a88f0" />
<line x1="272.3" y1="918.8" x2="337.22" y2="1004.63" stroke="#2a88f0" stroke-width="1.6" />
<polygon points="340.3,1008.7 337.72,999.99 332.62,1003.85" fill="#2a88f0" />
<line x1="340.3" y1="1008.7" x2="391.4" y2="1008.7" stroke="#2a88f0" stroke-width="1.6" />
<polygon points="396.5,1008.7 388,1005.5 388,1011.9" fill="#2a88f0" />
<line x1="396.5" y1="1008.7" x2="340.28" y2="1104.4" stroke="#2a88f0" stroke-width="1.6" />
<polygon points="337.7,1108.8 344.76,1103.09 339.25,1099.85" fill="#2a88f0" />
<line x1="337.7" y1="1108.8" x2="142.93" y2="1160" stroke="#2a88f0" stroke-width="1.6" />
<polygon points="138,1161.3 147.03,1162.23 145.41,1156.04" fill="#2a88f0" />
<circle cx="120" cy="1045" r="3.9" fill="#3a3a3a"/>
<circle cx="134.25" cy="1045" r="3.9" fill="#3a3a3a"/>
<circle cx="165.5" cy="1009" r="3.9" fill="#3a3a3a"/>
<circle cx="192.5" cy="973.5" r="3.9" fill="#3a3a3a"/>
<circle cx="229.5" cy="937.5" r="3.9" fill="#3a3a3a"/>
<circle cx="243" cy="937.5" r="3.9" fill="#3a3a3a"/>
<circle cx="272.5" cy="918.75" r="3.9" fill="#3a3a3a"/>
<circle cx="292" cy="937.5" r="3.9" fill="#3a3a3a"/>
<circle cx="307.5" cy="955" r="3.9" fill="#3a3a3a"/>
<circle cx="320.5" cy="991.25" r="3.9" fill="#3a3a3a"/>
<circle cx="341.25" cy="1008.75" r="3.9" fill="#3a3a3a"/>
<circle cx="365" cy="1008.75" r="3.9" fill="#3a3a3a"/>
<circle cx="375" cy="1008.75" r="3.9" fill="#3a3a3a"/>
<circle cx="378.75" cy="1008.75" r="3.9" fill="#3a3a3a"/>
<circle cx="388" cy="1008.75" r="3.9" fill="#3a3a3a"/>
<circle cx="396.25" cy="1008.75" r="3.9" fill="#3a3a3a"/>
<circle cx="398.75" cy="1008.75" r="3.9" fill="#3a3a3a"/>
<circle cx="368.75" cy="1045" r="3.9" fill="#3a3a3a"/>
<circle cx="358.75" cy="1063.25" r="3.9" fill="#3a3a3a"/>
<circle cx="344.5" cy="1080.5" r="3.9" fill="#3a3a3a"/>
<circle cx="339.5" cy="1117" r="3.9" fill="#3a3a3a"/>
<circle cx="255.3" cy="1117" r="3.9" fill="#3a3a3a"/>
<circle cx="259.6" cy="1117" r="3.9" fill="#3a3a3a"/>
<circle cx="273.8" cy="1117" r="3.9" fill="#3a3a3a"/>
<circle cx="278.1" cy="1117" r="3.9" fill="#3a3a3a"/>
<circle cx="296.6" cy="1117" r="3.9" fill="#3a3a3a"/>
<circle cx="308.5" cy="1117" r="3.9" fill="#3a3a3a"/>
<circle cx="313.9" cy="1117" r="3.9" fill="#3a3a3a"/>
<circle cx="322.6" cy="1117" r="3.9" fill="#3a3a3a"/>
<circle cx="243.4" cy="1135.2" r="3.9" fill="#3a3a3a"/>
<circle cx="141.3" cy="1153" r="3.9" fill="#3a3a3a"/>
<circle cx="166.9" cy="1153" r="3.9" fill="#3a3a3a"/>
<circle cx="181.5" cy="1153" r="3.9" fill="#3a3a3a"/>
<circle cx="190.1" cy="1153" r="3.9" fill="#3a3a3a"/>
<circle cx="196.2" cy="1153" r="3.9" fill="#3a3a3a"/>
<circle cx="202.5" cy="1153" r="3.9" fill="#3a3a3a"/>
<circle cx="211.9" cy="1153" r="3.9" fill="#3a3a3a"/>
<text x="446" y="961.8" font-size="12" font-weight="bold" text-anchor="middle" fill="#f04848" >Chemical</text>
<text x="446" y="977.3" font-size="12" font-weight="bold" text-anchor="middle" fill="#f04848" >Shrinkage</text>
<text x="446" y="1048.3" font-size="12" font-weight="bold" text-anchor="middle" fill="#f04848" >High Elastic</text>
<text x="446" y="1063.8" font-size="12" font-weight="bold" text-anchor="middle" fill="#f04848" >Shrinkage</text>
<text x="446" y="1130.6" font-size="12" font-weight="bold" text-anchor="middle" fill="#f04848" >Glassy</text>
<text x="446" y="1146.3" font-size="12" font-weight="bold" text-anchor="middle" fill="#f04848" >Shrinkage</text>
<text x="110" y="967.87" font-size="13.6" font-weight="bold" text-anchor="start" fill="#f04848" >Heating Stage</text>
<text x="273.8" y="1147.8" font-size="13.4" font-weight="bold" text-anchor="start" fill="#2a88f0" >Cooling Stage</text>
<text x="215" y="906.98" font-size="12.5" font-weight="bold" text-anchor="start" fill="#f04848" >108<tspan font-weight="normal">°</tspan>C</text>
<line x1="252.5" y1="904" x2="266.83" y2="914.23" stroke="#f04848" stroke-width="0.9" />
<polygon points="270,916.5 266.11,910.77 263.32,914.67" fill="#f04848" />
<text x="270.5" y="1083.97" font-size="12.5" font-weight="bold" text-anchor="start" fill="#f04848" >148<tspan font-weight="normal">°</tspan>C</text>
<line x1="307.5" y1="1090" x2="323.52" y2="1103.49" stroke="#f04848" stroke-width="0.9" />
<polygon points="326.5,1106 323.07,1099.98 319.98,1103.65" fill="#f04848" />
<rect x="91.6" y="884" width="401.9" height="323.5" fill="none" stroke="#000" stroke-width="2.6"/>
<line x1="91.6" y1="1206.2" x2="97.6" y2="1206.2" stroke="#000" stroke-width="2.2" />
<line x1="91.6" y1="1165.9" x2="97.6" y2="1165.9" stroke="#000" stroke-width="2.2" />
<line x1="91.6" y1="1125.6" x2="97.6" y2="1125.6" stroke="#000" stroke-width="2.2" />
<line x1="91.6" y1="1085.3" x2="97.6" y2="1085.3" stroke="#000" stroke-width="2.2" />
<line x1="91.6" y1="1045" x2="97.6" y2="1045" stroke="#000" stroke-width="2.2" />
<line x1="91.6" y1="1004.7" x2="97.6" y2="1004.7" stroke="#000" stroke-width="2.2" />
<line x1="91.6" y1="964.4" x2="97.6" y2="964.4" stroke="#000" stroke-width="2.2" />
<line x1="91.6" y1="924.1" x2="97.6" y2="924.1" stroke="#000" stroke-width="2.2" />
<line x1="91.6" y1="883.8" x2="97.6" y2="883.8" stroke="#000" stroke-width="2.2" />
<line x1="91.6" y1="1186.05" x2="95.1" y2="1186.05" stroke="#000" stroke-width="2.2" />
<line x1="91.6" y1="1145.75" x2="95.1" y2="1145.75" stroke="#000" stroke-width="2.2" />
<line x1="91.6" y1="1105.45" x2="95.1" y2="1105.45" stroke="#000" stroke-width="2.2" />
<line x1="91.6" y1="1065.15" x2="95.1" y2="1065.15" stroke="#000" stroke-width="2.2" />
<line x1="91.6" y1="1024.85" x2="95.1" y2="1024.85" stroke="#000" stroke-width="2.2" />
<line x1="91.6" y1="984.55" x2="95.1" y2="984.55" stroke="#000" stroke-width="2.2" />
<line x1="91.6" y1="944.25" x2="95.1" y2="944.25" stroke="#000" stroke-width="2.2" />
<line x1="91.6" y1="903.95" x2="95.1" y2="903.95" stroke="#000" stroke-width="2.2" />
<line x1="91.5" y1="1207.5" x2="91.5" y2="1201.5" stroke="#000" stroke-width="2.2" />
<line x1="125" y1="1207.5" x2="125" y2="1201.5" stroke="#000" stroke-width="2.2" />
<line x1="158.5" y1="1207.5" x2="158.5" y2="1201.5" stroke="#000" stroke-width="2.2" />
<line x1="192" y1="1207.5" x2="192" y2="1201.5" stroke="#000" stroke-width="2.2" />
<line x1="225.5" y1="1207.5" x2="225.5" y2="1201.5" stroke="#000" stroke-width="2.2" />
<line x1="259" y1="1207.5" x2="259" y2="1201.5" stroke="#000" stroke-width="2.2" />
<line x1="292.5" y1="1207.5" x2="292.5" y2="1201.5" stroke="#000" stroke-width="2.2" />
<line x1="326" y1="1207.5" x2="326" y2="1201.5" stroke="#000" stroke-width="2.2" />
<line x1="359.5" y1="1207.5" x2="359.5" y2="1201.5" stroke="#000" stroke-width="2.2" />
<line x1="393" y1="1207.5" x2="393" y2="1201.5" stroke="#000" stroke-width="2.2" />
<line x1="426.5" y1="1207.5" x2="426.5" y2="1201.5" stroke="#000" stroke-width="2.2" />
<line x1="460" y1="1207.5" x2="460" y2="1201.5" stroke="#000" stroke-width="2.2" />
<line x1="493.5" y1="1207.5" x2="493.5" y2="1201.5" stroke="#000" stroke-width="2.2" />
<line x1="108.25" y1="1207.5" x2="108.25" y2="1204" stroke="#000" stroke-width="2.2" />
<line x1="141.75" y1="1207.5" x2="141.75" y2="1204" stroke="#000" stroke-width="2.2" />
<line x1="175.25" y1="1207.5" x2="175.25" y2="1204" stroke="#000" stroke-width="2.2" />
<line x1="208.75" y1="1207.5" x2="208.75" y2="1204" stroke="#000" stroke-width="2.2" />
<line x1="242.25" y1="1207.5" x2="242.25" y2="1204" stroke="#000" stroke-width="2.2" />
<line x1="275.75" y1="1207.5" x2="275.75" y2="1204" stroke="#000" stroke-width="2.2" />
<line x1="309.25" y1="1207.5" x2="309.25" y2="1204" stroke="#000" stroke-width="2.2" />
<line x1="342.75" y1="1207.5" x2="342.75" y2="1204" stroke="#000" stroke-width="2.2" />
<line x1="376.25" y1="1207.5" x2="376.25" y2="1204" stroke="#000" stroke-width="2.2" />
<line x1="409.75" y1="1207.5" x2="409.75" y2="1204" stroke="#000" stroke-width="2.2" />
<line x1="443.25" y1="1207.5" x2="443.25" y2="1204" stroke="#000" stroke-width="2.2" />
<line x1="476.75" y1="1207.5" x2="476.75" y2="1204" stroke="#000" stroke-width="2.2" />
<text x="84.3" y="1211.82" font-size="18.5" font-weight="bold" text-anchor="end" fill="#000" >0.900</text>
<text x="84.3" y="1171.52" font-size="18.5" font-weight="bold" text-anchor="end" fill="#000" >0.925</text>
<text x="84.3" y="1131.22" font-size="18.5" font-weight="bold" text-anchor="end" fill="#000" >0.950</text>
<text x="84.3" y="1090.92" font-size="18.5" font-weight="bold" text-anchor="end" fill="#000" >0.975</text>
<text x="84.3" y="1050.62" font-size="18.5" font-weight="bold" text-anchor="end" fill="#000" >1.000</text>
<text x="84.3" y="1010.32" font-size="18.5" font-weight="bold" text-anchor="end" fill="#000" >1.025</text>
<text x="84.3" y="970.02" font-size="18.5" font-weight="bold" text-anchor="end" fill="#000" >1.050</text>
<text x="84.3" y="929.72" font-size="18.5" font-weight="bold" text-anchor="end" fill="#000" >1.075</text>
<text x="84.3" y="889.42" font-size="18.5" font-weight="bold" text-anchor="end" fill="#000" >1.100</text>
<text x="91.5" y="1228.94" font-size="18" font-weight="bold" text-anchor="middle" fill="#000" >0</text>
<text x="125" y="1228.94" font-size="18" font-weight="bold" text-anchor="middle" fill="#000" >20</text>
<text x="158.5" y="1228.94" font-size="18" font-weight="bold" text-anchor="middle" fill="#000" >40</text>
<text x="192" y="1228.94" font-size="18" font-weight="bold" text-anchor="middle" fill="#000" >60</text>
<text x="225.5" y="1228.94" font-size="18" font-weight="bold" text-anchor="middle" fill="#000" >80</text>
<text x="259" y="1228.94" font-size="18" font-weight="bold" text-anchor="middle" fill="#000" >100</text>
<text x="292.5" y="1228.94" font-size="18" font-weight="bold" text-anchor="middle" fill="#000" >120</text>
<text x="326" y="1228.94" font-size="18" font-weight="bold" text-anchor="middle" fill="#000" >140</text>
<text x="359.5" y="1228.94" font-size="18" font-weight="bold" text-anchor="middle" fill="#000" >160</text>
<text x="393" y="1228.94" font-size="18" font-weight="bold" text-anchor="middle" fill="#000" >180</text>
<text x="426.5" y="1228.94" font-size="18" font-weight="bold" text-anchor="middle" fill="#000" >200</text>
<text x="460" y="1228.94" font-size="18" font-weight="bold" text-anchor="middle" fill="#000" >220</text>
<text x="493.5" y="1228.94" font-size="18" font-weight="bold" text-anchor="middle" fill="#000" >240</text>
<text x="292.4" y="1269.52" font-size="27.7" font-weight="bold" text-anchor="middle" fill="#000" >Temperature(<tspan font-weight="normal" font-size="30.5" dy="4">°</tspan><tspan dy="-4">C)</tspan></text>
<text transform="translate(25,1045.5) rotate(-90)" font-size="27" font-weight="bold" text-anchor="middle" fill="#000" ><tspan font-weight="normal" fill="#333">Δ</tspan>V/V<tspan dy="5">0</tspan></text>
<text x="103.8" y="913" font-size="29.3" fill="#000" stroke="#000" stroke-width="0.65">(e)</text>
<clipPath id="fclip"><path d="M670.5,956.25 C673.67,950.83 676.22,944.94 680,940 C683.55,935.36 688.08,931.36 692.5,927.5 C694.75,925.53 697.3,923.74 700,922.5 C703.13,921.07 706.6,919.99 710,919.5 C712.64,919.12 715.5,919.31 718.1,919.9 C721.33,920.64 724.93,921.54 727.5,923.5 C730.23,925.58 731.87,929.14 734,932 C736.21,934.97 738.45,937.92 740.5,941 C742.45,943.92 744.33,946.91 746,950 C747.76,953.25 749.36,956.6 750.8,960 C752.19,963.27 753.48,966.6 754.5,970 C755.48,973.27 756.07,976.66 756.8,980 C757.67,983.99 758.41,988.01 759.3,992 C760.25,996.25 761.37,1000.45 762.3,1004.7 C763.2,1008.82 763.92,1012.98 764.8,1017.1 C765.68,1021.21 766.78,1025.28 767.6,1029.4 C768.42,1033.51 768.94,1037.68 769.7,1041.8 C770.47,1045.95 771.41,1050.06 772.2,1054.2 C773.01,1058.46 773.71,1062.74 774.5,1067 C775.31,1071.34 776.31,1075.64 777,1080 C777.98,1086.18 778.58,1092.41 779.5,1098.6 C780.41,1104.75 781.46,1110.87 782.5,1117 C783.56,1123.24 784.63,1129.48 785.8,1135.7 C786.96,1141.88 788.17,1148.05 789.5,1154.2 C790.57,1159.19 791.79,1164.14 793,1169.1 C793.73,1172.08 794.4,1175.07 795.3,1178 C795.9,1179.97 796.54,1182 797.5,1183.8 C798.04,1184.8 798.92,1186.18 799.8,1186.4 C800.52,1186.58 801.72,1185.71 802.3,1185 C803.32,1183.74 803.99,1182.06 804.6,1180.5 C805.59,1178 806.36,1175.39 807.1,1172.8 C808.43,1168.16 809.73,1163.5 810.8,1158.8 C812.2,1152.67 813.27,1146.47 814.5,1140.3 C815.74,1134.1 817.03,1127.91 818.2,1121.7 C819.36,1115.54 820.5,1109.38 821.5,1103.2 C822.53,1096.82 823.33,1090.4 824.3,1084 C825.53,1075.83 826.75,1067.65 828.1,1059.5 C829.55,1050.72 830.96,1041.92 832.7,1033.2 C834.02,1026.59 835.66,1020.04 837.3,1013.5 C838.73,1007.77 840.2,1002.05 841.9,996.4 C843.5,991.11 845.35,985.9 847.2,980.7 C849.08,975.4 850.95,970.09 853.1,964.9 C855.12,960.02 857.17,955.12 859.7,950.5 C861.97,946.35 864.54,942.27 867.5,938.6 C870.21,935.24 873.32,932.05 876.7,929.4 C879.45,927.25 882.68,925.57 885.9,924.2 C888.78,922.97 891.88,921.87 895,921.6 C903.25,920.9 911.67,921.26 920,921.3 C937.17,921.39 954.34,922.06 971.5,922 C981,921.96 990.5,921.28 1000,921 C1013.33,920.61 1026.67,920.47 1040,920 C1054.84,919.47 1069.67,918.67 1084.5,918 L1084.5,880 L670.5,880 Z"/></clipPath>
<g clip-path="url(#fclip)">
<rect x="700" y="920.4" width="200" height="280" fill="#b7d7f7" />
<line x1="723.2" y1="920.4" x2="723.2" y2="1200" stroke="#94acc5" stroke-width="1.1" />
<line x1="729.77" y1="920.4" x2="729.77" y2="1200" stroke="#94acc5" stroke-width="1.1" />
<line x1="736.34" y1="920.4" x2="736.34" y2="1200" stroke="#94acc5" stroke-width="1.1" />
<line x1="742.91" y1="920.4" x2="742.91" y2="1200" stroke="#94acc5" stroke-width="1.1" />
<line x1="749.48" y1="920.4" x2="749.48" y2="1200" stroke="#94acc5" stroke-width="1.1" />
<line x1="756.05" y1="920.4" x2="756.05" y2="1200" stroke="#94acc5" stroke-width="1.1" />
<line x1="762.62" y1="920.4" x2="762.62" y2="1200" stroke="#94acc5" stroke-width="1.1" />
<line x1="769.19" y1="920.4" x2="769.19" y2="1200" stroke="#94acc5" stroke-width="1.1" />
<line x1="775.76" y1="920.4" x2="775.76" y2="1200" stroke="#94acc5" stroke-width="1.1" />
<line x1="782.33" y1="920.4" x2="782.33" y2="1200" stroke="#94acc5" stroke-width="1.1" />
<line x1="788.9" y1="920.4" x2="788.9" y2="1200" stroke="#94acc5" stroke-width="1.1" />
<line x1="795.47" y1="920.4" x2="795.47" y2="1200" stroke="#94acc5" stroke-width="1.1" />
<line x1="802.04" y1="920.4" x2="802.04" y2="1200" stroke="#94acc5" stroke-width="1.1" />
<line x1="808.61" y1="920.4" x2="808.61" y2="1200" stroke="#94acc5" stroke-width="1.1" />
<line x1="815.18" y1="920.4" x2="815.18" y2="1200" stroke="#94acc5" stroke-width="1.1" />
<line x1="821.75" y1="920.4" x2="821.75" y2="1200" stroke="#94acc5" stroke-width="1.1" />
<line x1="828.32" y1="920.4" x2="828.32" y2="1200" stroke="#94acc5" stroke-width="1.1" />
<line x1="834.89" y1="920.4" x2="834.89" y2="1200" stroke="#94acc5" stroke-width="1.1" />
<line x1="841.46" y1="920.4" x2="841.46" y2="1200" stroke="#94acc5" stroke-width="1.1" />
<line x1="848.03" y1="920.4" x2="848.03" y2="1200" stroke="#94acc5" stroke-width="1.1" />
<line x1="854.6" y1="920.4" x2="854.6" y2="1200" stroke="#94acc5" stroke-width="1.1" />
<line x1="861.17" y1="920.4" x2="861.17" y2="1200" stroke="#94acc5" stroke-width="1.1" />
<line x1="867.74" y1="920.4" x2="867.74" y2="1200" stroke="#94acc5" stroke-width="1.1" />
<line x1="874.31" y1="920.4" x2="874.31" y2="1200" stroke="#94acc5" stroke-width="1.1" />
<line x1="880.88" y1="920.4" x2="880.88" y2="1200" stroke="#94acc5" stroke-width="1.1" />
<line x1="887.45" y1="920.4" x2="887.45" y2="1200" stroke="#94acc5" stroke-width="1.1" />
</g>
<line x1="722" y1="920.4" x2="891" y2="920.4" stroke="#8fbbe8" stroke-width="1" stroke-dasharray="3,2"/>
<path d="M670.5,956.25 C673.67,950.83 676.22,944.94 680,940 C683.55,935.36 688.08,931.36 692.5,927.5 C694.75,925.53 697.3,923.74 700,922.5 C703.13,921.07 706.6,919.99 710,919.5 C712.64,919.12 715.5,919.31 718.1,919.9 C721.33,920.64 724.93,921.54 727.5,923.5 C730.23,925.58 731.87,929.14 734,932 C736.21,934.97 738.45,937.92 740.5,941 C742.45,943.92 744.33,946.91 746,950 C747.76,953.25 749.36,956.6 750.8,960 C752.19,963.27 753.48,966.6 754.5,970 C755.48,973.27 756.07,976.66 756.8,980 C757.67,983.99 758.41,988.01 759.3,992 C760.25,996.25 761.37,1000.45 762.3,1004.7 C763.2,1008.82 763.92,1012.98 764.8,1017.1 C765.68,1021.21 766.78,1025.28 767.6,1029.4 C768.42,1033.51 768.94,1037.68 769.7,1041.8 C770.47,1045.95 771.41,1050.06 772.2,1054.2 C773.01,1058.46 773.71,1062.74 774.5,1067 C775.31,1071.34 776.31,1075.64 777,1080 C777.98,1086.18 778.58,1092.41 779.5,1098.6 C780.41,1104.75 781.46,1110.87 782.5,1117 C783.56,1123.24 784.63,1129.48 785.8,1135.7 C786.96,1141.88 788.17,1148.05 789.5,1154.2 C790.57,1159.19 791.79,1164.14 793,1169.1 C793.73,1172.08 794.4,1175.07 795.3,1178 C795.9,1179.97 796.54,1182 797.5,1183.8 C798.04,1184.8 798.92,1186.18 799.8,1186.4 C800.52,1186.58 801.72,1185.71 802.3,1185 C803.32,1183.74 803.99,1182.06 804.6,1180.5 C805.59,1178 806.36,1175.39 807.1,1172.8 C808.43,1168.16 809.73,1163.5 810.8,1158.8 C812.2,1152.67 813.27,1146.47 814.5,1140.3 C815.74,1134.1 817.03,1127.91 818.2,1121.7 C819.36,1115.54 820.5,1109.38 821.5,1103.2 C822.53,1096.82 823.33,1090.4 824.3,1084 C825.53,1075.83 826.75,1067.65 828.1,1059.5 C829.55,1050.72 830.96,1041.92 832.7,1033.2 C834.02,1026.59 835.66,1020.04 837.3,1013.5 C838.73,1007.77 840.2,1002.05 841.9,996.4 C843.5,991.11 845.35,985.9 847.2,980.7 C849.08,975.4 850.95,970.09 853.1,964.9 C855.12,960.02 857.17,955.12 859.7,950.5 C861.97,946.35 864.54,942.27 867.5,938.6 C870.21,935.24 873.32,932.05 876.7,929.4 C879.45,927.25 882.68,925.57 885.9,924.2 C888.78,922.97 891.88,921.87 895,921.6 C903.25,920.9 911.67,921.26 920,921.3 C937.17,921.39 954.34,922.06 971.5,922 C981,921.96 990.5,921.28 1000,921 C1013.33,920.61 1026.67,920.47 1040,920 C1054.84,919.47 1069.67,918.67 1084.5,918" stroke="#333" stroke-width="2.6" fill="none" stroke-linejoin="round" stroke-linecap="round" />
<line x1="708.5" y1="960" x2="708.5" y2="931.7" stroke="#f23c3c" stroke-width="0.9" />
<polygon points="708.5,927.5 706.1,934.5 710.9,934.5" fill="#f23c3c" />
<text x="676.5" y="977.5" font-size="18.5" font-weight="bold" fill="#f23c3c"><tspan font-style="italic">T</tspan><tspan font-size="12.5" font-style="italic" dy="4">i</tspan><tspan dy="-4"> =46°C</tspan></text>
<line x1="904" y1="958.75" x2="904" y2="930.7" stroke="#f23c3c" stroke-width="0.9" />
<polygon points="904,926.5 901.6,933.5 906.4,933.5" fill="#f23c3c" />
<text x="869" y="980.3" font-size="18.5" font-weight="bold" fill="#f23c3c"><tspan font-style="italic">T</tspan><tspan font-size="12.5" font-style="italic" dy="4">e</tspan><tspan dy="-4"> =150°C</tspan></text>
<line x1="832.5" y1="1188" x2="808.5" y2="1188" stroke="#f23c3c" stroke-width="0.9" />
<polygon points="804.3,1188 811.3,1190.4 811.3,1185.6" fill="#f23c3c" />
<text x="837.5" y="1197.8" font-size="18.5" font-weight="bold" fill="#f23c3c"><tspan font-style="italic">T</tspan><tspan font-size="12.5" font-style="italic" dy="4">p</tspan><tspan dy="-4"> =95°C</tspan></text>
<text transform="translate(711.7,1091) rotate(-90)" font-size="19.2" font-weight="normal" text-anchor="middle" fill="#f23c3c" stroke="#f23c3c" stroke-width="0.55">Heat Release</text>
<line x1="720.5" y1="1034.4" x2="720.5" y2="1142.2" stroke="#f23c3c" stroke-width="0.9" />
<polygon points="720.5,1147 722.9,1139 718.1,1139" fill="#f23c3c" />
<rect x="669.8" y="885.7" width="415.7" height="334.1" fill="none" stroke="#000" stroke-width="2.6"/>
<line x1="669.8" y1="1220.1" x2="675.8" y2="1220.1" stroke="#000" stroke-width="2.2" />
<line x1="669.8" y1="1182.9" x2="675.8" y2="1182.9" stroke="#000" stroke-width="2.2" />
<line x1="669.8" y1="1145.7" x2="675.8" y2="1145.7" stroke="#000" stroke-width="2.2" />
<line x1="669.8" y1="1108.5" x2="675.8" y2="1108.5" stroke="#000" stroke-width="2.2" />
<line x1="669.8" y1="1071.3" x2="675.8" y2="1071.3" stroke="#000" stroke-width="2.2" />
<line x1="669.8" y1="1034.1" x2="675.8" y2="1034.1" stroke="#000" stroke-width="2.2" />
<line x1="669.8" y1="996.9" x2="675.8" y2="996.9" stroke="#000" stroke-width="2.2" />
<line x1="669.8" y1="959.7" x2="675.8" y2="959.7" stroke="#000" stroke-width="2.2" />
<line x1="669.8" y1="922.5" x2="675.8" y2="922.5" stroke="#000" stroke-width="2.2" />
<line x1="669.8" y1="885.3" x2="675.8" y2="885.3" stroke="#000" stroke-width="2.2" />
<line x1="669.8" y1="1201.5" x2="673.3" y2="1201.5" stroke="#000" stroke-width="2.2" />
<line x1="669.8" y1="1164.3" x2="673.3" y2="1164.3" stroke="#000" stroke-width="2.2" />
<line x1="669.8" y1="1127.1" x2="673.3" y2="1127.1" stroke="#000" stroke-width="2.2" />
<line x1="669.8" y1="1089.9" x2="673.3" y2="1089.9" stroke="#000" stroke-width="2.2" />
<line x1="669.8" y1="1052.7" x2="673.3" y2="1052.7" stroke="#000" stroke-width="2.2" />
<line x1="669.8" y1="1015.5" x2="673.3" y2="1015.5" stroke="#000" stroke-width="2.2" />
<line x1="669.8" y1="978.3" x2="673.3" y2="978.3" stroke="#000" stroke-width="2.2" />
<line x1="669.8" y1="941.1" x2="673.3" y2="941.1" stroke="#000" stroke-width="2.2" />
<line x1="669.8" y1="903.9" x2="673.3" y2="903.9" stroke="#000" stroke-width="2.2" />
<line x1="716.5" y1="1219.8" x2="716.5" y2="1213.8" stroke="#000" stroke-width="2.2" />
<line x1="808.5" y1="1219.8" x2="808.5" y2="1213.8" stroke="#000" stroke-width="2.2" />
<line x1="900.5" y1="1219.8" x2="900.5" y2="1213.8" stroke="#000" stroke-width="2.2" />
<line x1="992.5" y1="1219.8" x2="992.5" y2="1213.8" stroke="#000" stroke-width="2.2" />
<line x1="1084.5" y1="1219.8" x2="1084.5" y2="1213.8" stroke="#000" stroke-width="2.2" />
<line x1="762.5" y1="1219.8" x2="762.5" y2="1216.3" stroke="#000" stroke-width="2.2" />
<line x1="854.5" y1="1219.8" x2="854.5" y2="1216.3" stroke="#000" stroke-width="2.2" />
<line x1="946.5" y1="1219.8" x2="946.5" y2="1216.3" stroke="#000" stroke-width="2.2" />
<line x1="1038.5" y1="1219.8" x2="1038.5" y2="1216.3" stroke="#000" stroke-width="2.2" />
<text x="662.6" y="1227.32" font-size="18.5" font-weight="bold" text-anchor="end" fill="#000" >−0.8</text>
<text x="662.6" y="1190.12" font-size="18.5" font-weight="bold" text-anchor="end" fill="#000" >−0.7</text>
<text x="662.6" y="1152.92" font-size="18.5" font-weight="bold" text-anchor="end" fill="#000" >−0.6</text>
<text x="662.6" y="1115.72" font-size="18.5" font-weight="bold" text-anchor="end" fill="#000" >−0.5</text>
<text x="662.6" y="1078.52" font-size="18.5" font-weight="bold" text-anchor="end" fill="#000" >−0.4</text>
<text x="662.6" y="1041.32" font-size="18.5" font-weight="bold" text-anchor="end" fill="#000" >−0.3</text>
<text x="662.6" y="1004.12" font-size="18.5" font-weight="bold" text-anchor="end" fill="#000" >−0.2</text>
<text x="662.6" y="966.92" font-size="18.5" font-weight="bold" text-anchor="end" fill="#000" >−0.1</text>
<text x="662.6" y="929.72" font-size="18.5" font-weight="bold" text-anchor="end" fill="#000" >0.0</text>
<text x="662.6" y="892.52" font-size="18.5" font-weight="bold" text-anchor="end" fill="#000" >0.1</text>
<text x="716.5" y="1244.12" font-size="18.5" font-weight="bold" text-anchor="middle" fill="#000" >50</text>
<text x="808.5" y="1244.12" font-size="18.5" font-weight="bold" text-anchor="middle" fill="#000" >100</text>
<text x="900.5" y="1244.12" font-size="18.5" font-weight="bold" text-anchor="middle" fill="#000" >150</text>
<text x="992.5" y="1244.12" font-size="18.5" font-weight="bold" text-anchor="middle" fill="#000" >200</text>
<text x="1084.5" y="1244.12" font-size="18.5" font-weight="bold" text-anchor="middle" fill="#000" >250</text>
<text x="863.4" y="1279.63" font-size="28.3" font-weight="bold" text-anchor="middle" fill="#000" >Temperature (°C)</text>
<text transform="translate(616,1062.6) rotate(-90)" font-size="28.6" font-weight="bold" text-anchor="middle" fill="#000" >Heat Flow (mW/mg)</text>
<text x="688.5" y="912.4" font-size="29.3" fill="#000" stroke="#000" stroke-width="0.65">(f)</text>
</svg>
</body></html>
